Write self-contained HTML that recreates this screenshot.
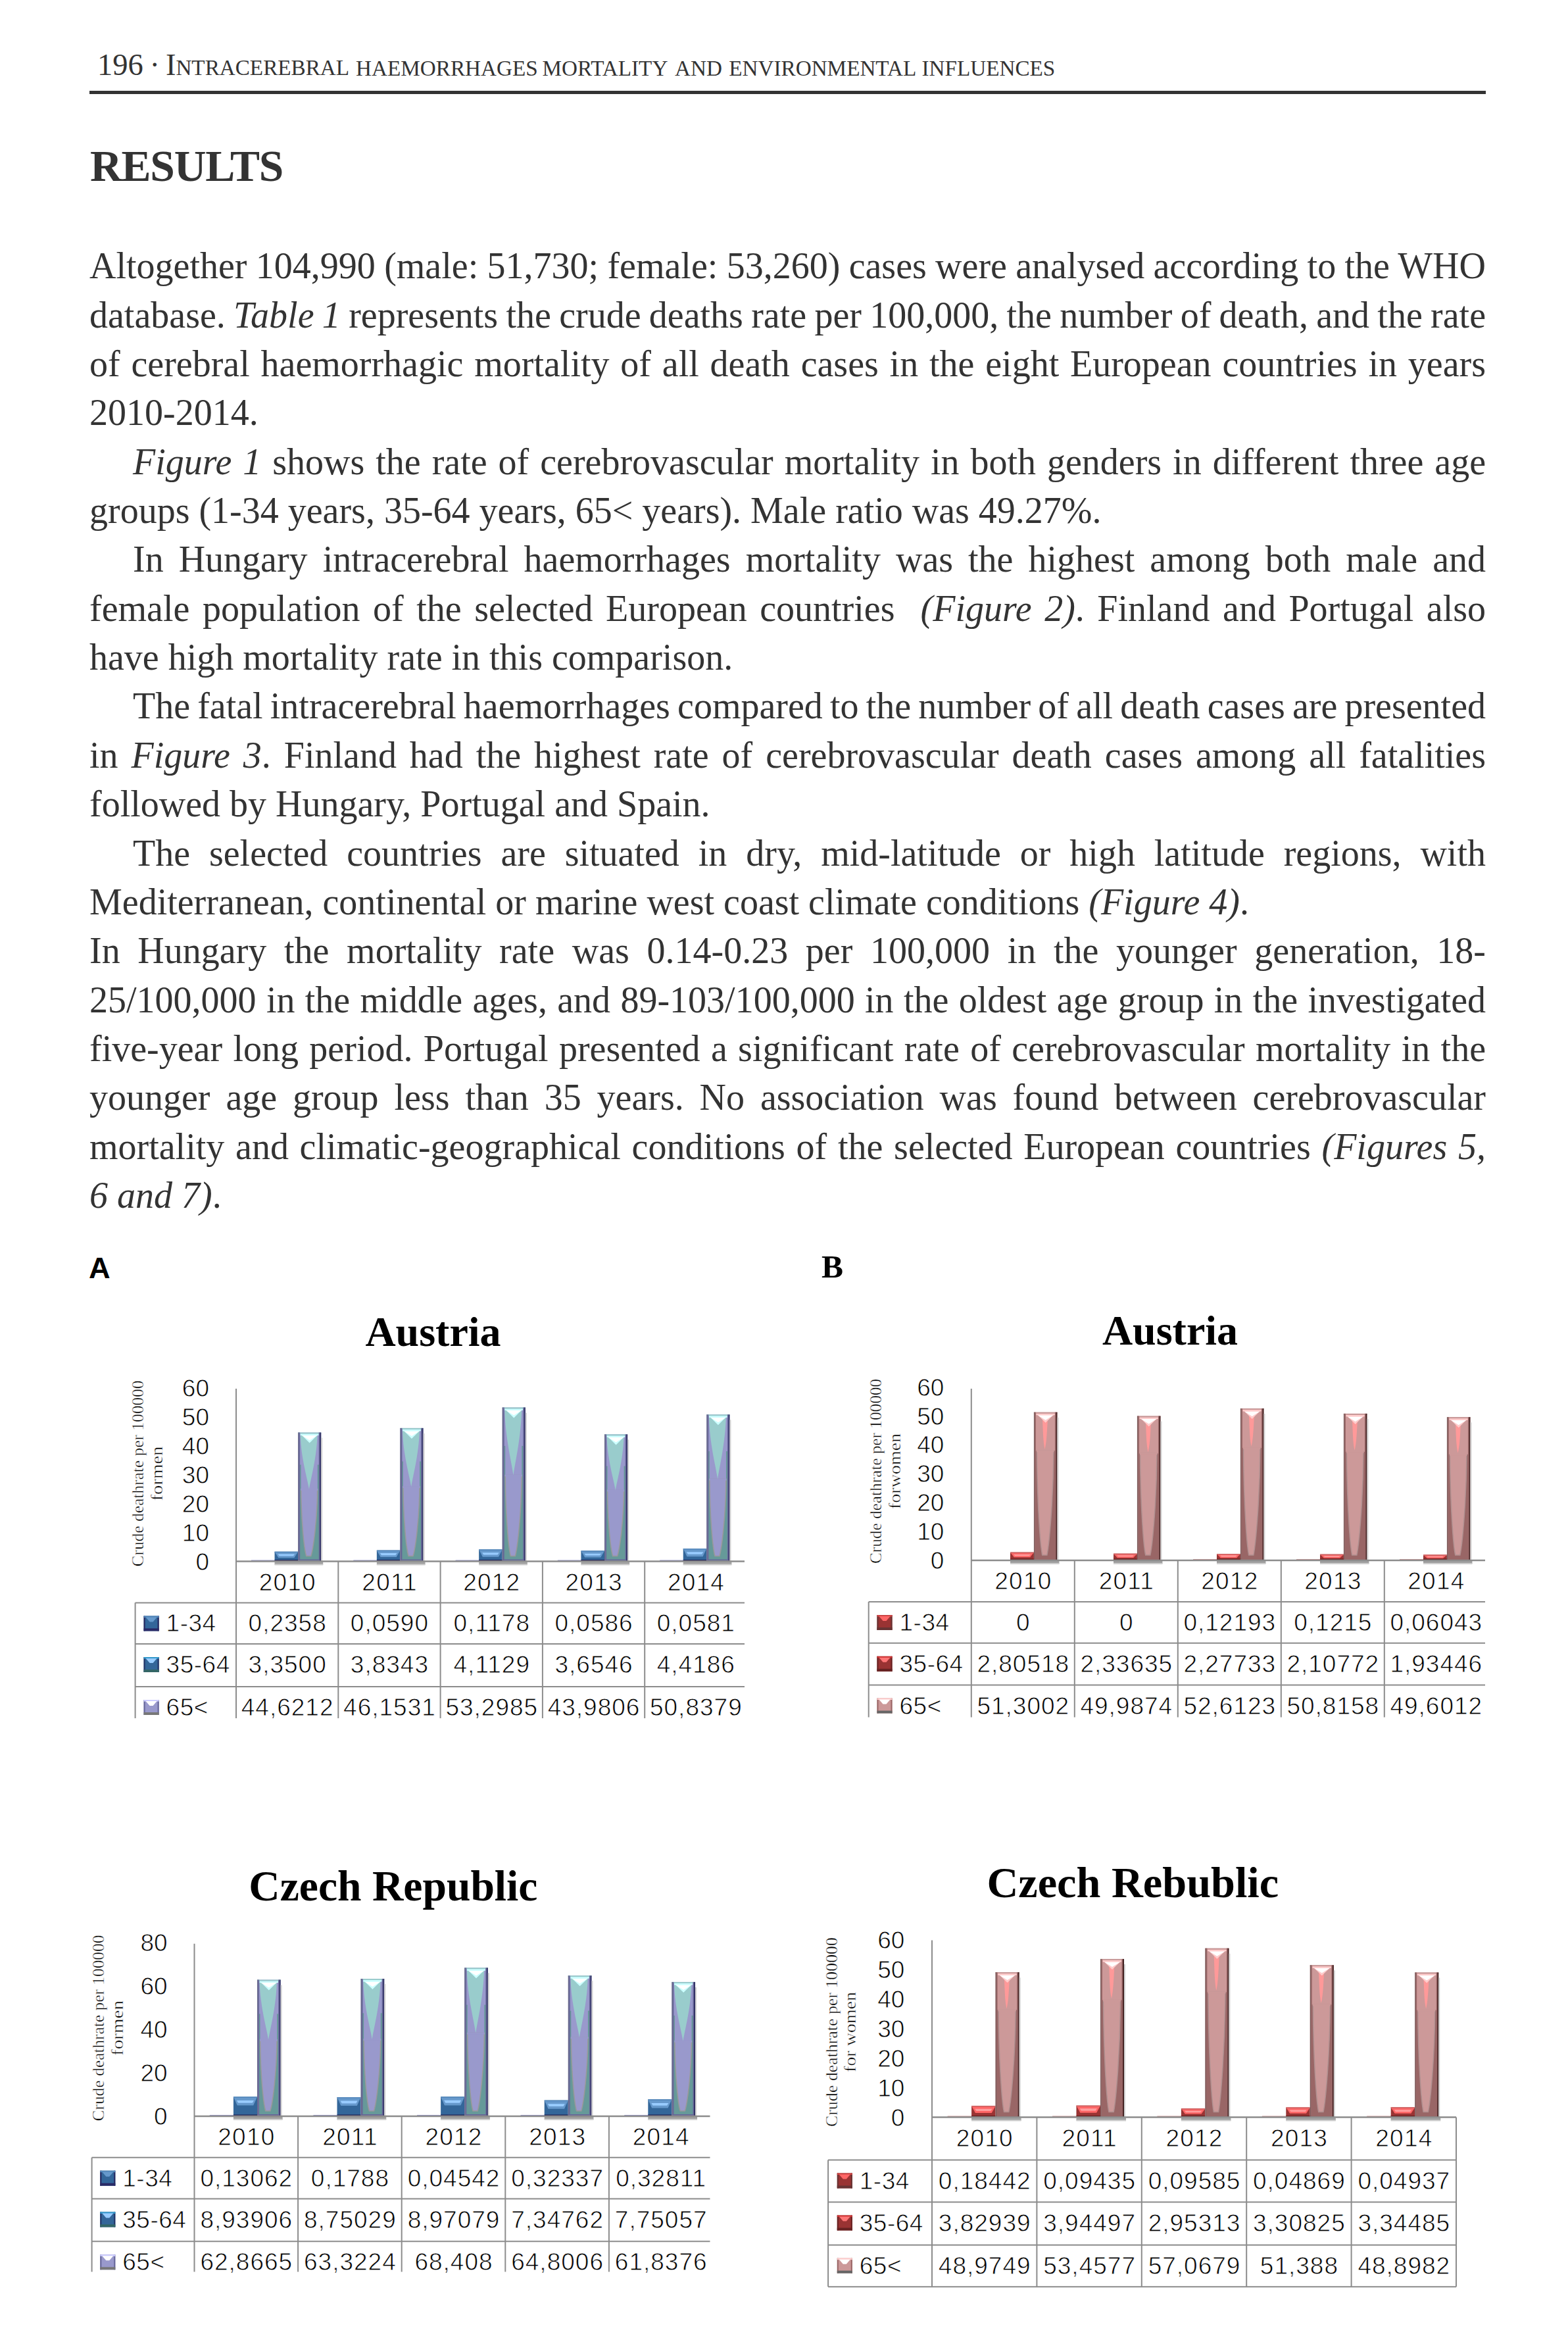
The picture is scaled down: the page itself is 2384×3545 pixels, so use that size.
<!DOCTYPE html>
<html><head><meta charset="utf-8"><title>Results</title>
<style>
html,body{margin:0;padding:0;background:#fff;}
body{width:2384px;height:3545px;position:relative;overflow:hidden;font-family:"Liberation Serif",serif;color:#333;}
.hb{position:absolute;top:75.86px;white-space:nowrap;font-size:46.5px;line-height:46.5px;}
.hb .sc{font-size:33.2px;line-height:0;}
.hs{position:absolute;top:87.0px;white-space:nowrap;font-size:33.2px;line-height:33.2px;}
.rule{position:absolute;left:136px;top:138px;width:2123px;height:5px;background:#333;}
h1{position:absolute;margin:0;left:137px;top:218.8px;letter-spacing:-1.2px;font-size:67.5px;font-weight:bold;line-height:1;white-space:nowrap;}
.bl{position:absolute;font-size:56px;line-height:74.35px;height:74.35px;white-space:nowrap;overflow:visible;}
.bl.j{text-align:justify;text-align-last:justify;white-space:normal;}
.bl.l{text-align:left;}
.lab{position:absolute;color:#000;line-height:1;}
.ov{position:absolute;left:0;top:0;}
</style></head><body>
<div class="hb" style="left:148px">196</div><div class="hb" style="left:227.6px">·</div><div class="hb" style="left:251.9px">I<span class="sc">NTRACEREBRAL</span></div><div class="hs" style="left:541.1px">HAEMORRHAGES</div><div class="hs" style="left:824.6px">MORTALITY</div><div class="hs" style="left:1026px">AND</div><div class="hs" style="left:1108.3px">ENVIRONMENTAL</div><div class="hs" style="left:1401.5px">INFLUENCES</div>
<div class="rule"></div>
<h1 id="h1">RESULTS</h1>
<div class="bl" style="top:367.32px;left:136px;word-spacing:-0.663px;"><span class="m">Altogether 104,990 (male: 51,730; female: 53,260) cases were analysed according to the WHO</span></div>
<div class="bl" style="top:441.68px;left:136px;word-spacing:-1.691px;"><span class="m">database. <i>Table 1</i> represents the crude deaths rate per 100,000, the number of death, and the rate</span></div>
<div class="bl" style="top:516.02px;left:136px;word-spacing:2.815px;"><span class="m">of cerebral haemorrhagic mortality of all death cases in the eight European countries in years</span></div>
<div class="bl" style="top:590.37px;left:136px;"><span class="m">2010-2014.</span></div>
<div class="bl" style="top:664.72px;left:202px;word-spacing:2.979px;"><span class="m"><i>Figure 1</i> shows the rate of cerebrovascular mortality in both genders in different three age</span></div>
<div class="bl" style="top:739.07px;left:136px;"><span class="m">groups (1-34 years, 35-64 years, 65&lt; years). Male ratio was 49.27%.</span></div>
<div class="bl" style="top:813.42px;left:202px;word-spacing:9.018px;"><span class="m">In Hungary intracerebral haemorrhages mortality was the highest among both male and</span></div>
<div class="bl" style="top:887.77px;left:136px;word-spacing:5.562px;"><span class="m">female population of the selected European countries &nbsp;<i>(Figure 2)</i>. Finland and Portugal also</span></div>
<div class="bl" style="top:962.12px;left:136px;"><span class="m">have high mortality rate in this comparison.</span></div>
<div class="bl" style="top:1036.47px;left:202px;word-spacing:-2.869px;"><span class="m">The fatal intracerebral haemorrhages compared to the number of all death cases are presented</span></div>
<div class="bl" style="top:1110.83px;left:136px;word-spacing:5.952px;"><span class="m">in <i>Figure 3</i>. Finland had the highest rate of cerebrovascular death cases among all fatalities</span></div>
<div class="bl" style="top:1185.17px;left:136px;"><span class="m">followed by Hungary, Portugal and Spain.</span></div>
<div class="bl" style="top:1259.52px;left:202px;word-spacing:14.911px;"><span class="m">The selected countries are situated in dry, mid-latitude or high latitude regions, with</span></div>
<div class="bl" style="top:1333.87px;left:136px;"><span class="m">Mediterranean, continental or marine west coast climate conditions <i>(Figure 4)</i>.</span></div>
<div class="bl" style="top:1408.22px;left:136px;word-spacing:12.698px;"><span class="m">In Hungary the mortality rate was 0.14-0.23 per 100,000 in the younger generation, 18-</span></div>
<div class="bl" style="top:1482.58px;left:136px;word-spacing:1.336px;"><span class="m">25/100,000 in the middle ages, and 89-103/100,000 in the oldest age group in the investigated</span></div>
<div class="bl" style="top:1556.92px;left:136px;word-spacing:2.372px;"><span class="m">five-year long period. Portugal presented a significant rate of cerebrovascular mortality in the</span></div>
<div class="bl" style="top:1631.27px;left:136px;word-spacing:9.880px;"><span class="m">younger age group less than 35 years. No association was found between cerebrovascular</span></div>
<div class="bl" style="top:1705.62px;left:136px;word-spacing:2.731px;"><span class="m">mortality and climatic-geographical conditions of the selected European countries <i>(Figures 5,</i></span></div>
<div class="bl" style="top:1779.97px;left:136px;"><span class="m"><i>6 and 7)</i>.</span></div>
<div class="lab" id="la" style="left:135px;top:1905px;font-family:'Liberation Sans',sans-serif;font-weight:bold;font-size:45.25px;">A</div>
<div class="lab" id="lb" style="left:1249px;top:1901.4px;font-family:'Liberation Serif',serif;font-weight:bold;font-size:49.5px;">B</div>
<svg class="ov" width="2384" height="3545" viewBox="0 0 2384 3545">
<text x="658.5" y="2046.3" font-family="Liberation Serif" font-size="64" font-weight="bold" text-anchor="middle" fill="#000" >Austria</text>
<text transform="translate(209.6,2240) rotate(-90)" x="0" y="0" font-family="Liberation Serif" font-size="26" text-anchor="middle" dominant-baseline="central" textLength="283" lengthAdjust="spacingAndGlyphs" stroke="#fff" stroke-width="0.5">Crude deathrate per 100000</text>
<text transform="translate(238,2240) rotate(-90)" x="0" y="0" font-family="Liberation Serif" font-size="26" text-anchor="middle" dominant-baseline="central" textLength="83" lengthAdjust="spacingAndGlyphs" stroke="#fff" stroke-width="0.5">formen</text>
<text x="318" y="2386.5" font-family="Liberation Sans" font-size="37" font-weight="normal" text-anchor="end" fill="#000" stroke="#fff" stroke-width="0.8">0</text>
<text x="318" y="2342.6" font-family="Liberation Sans" font-size="37" font-weight="normal" text-anchor="end" fill="#000" stroke="#fff" stroke-width="0.8">10</text>
<text x="318" y="2298.7" font-family="Liberation Sans" font-size="37" font-weight="normal" text-anchor="end" fill="#000" stroke="#fff" stroke-width="0.8">20</text>
<text x="318" y="2254.8" font-family="Liberation Sans" font-size="37" font-weight="normal" text-anchor="end" fill="#000" stroke="#fff" stroke-width="0.8">30</text>
<text x="318" y="2210.9" font-family="Liberation Sans" font-size="37" font-weight="normal" text-anchor="end" fill="#000" stroke="#fff" stroke-width="0.8">40</text>
<text x="318" y="2167" font-family="Liberation Sans" font-size="37" font-weight="normal" text-anchor="end" fill="#000" stroke="#fff" stroke-width="0.8">50</text>
<text x="318" y="2123.1" font-family="Liberation Sans" font-size="37" font-weight="normal" text-anchor="end" fill="#000" stroke="#fff" stroke-width="0.8">60</text>
<rect x="417.55" y="2374.5" width="73.66" height="4" fill="#a0a0a0" />
<rect x="417.55" y="2377.5" width="73.66" height="2" fill="#d0d0d0" />
<rect x="381.98" y="2371.5" width="35.56" height="2" fill="#9999cc" />
<rect x="417.55" y="2358.79" width="35.56" height="14.71" fill="#336699" />
<polygon points="417.55,2358.79 453.11,2358.79 447.42,2367.91 423.24,2367.91" fill="#6699cc" />
<rect x="417.55" y="2358.79" width="35.56" height="1.5" fill="#5588bb" />
<polygon points="422.53,2362.62 448.13,2362.62 446,2365.36 424.66,2365.36" fill="#99ccff" />
<rect x="417.55" y="2371" width="35.56" height="2.5" fill="#222255" />
<rect x="453.11" y="2177.61" width="35.1" height="195.89" fill="#9999cc" />
<rect x="455.11" y="2263.8" width="30.1" height="109.7" fill="#669999" />
<rect x="455.11" y="2226.58" width="2.5" height="146.92" fill="#669999" />
<rect x="482.71" y="2226.58" width="2.5" height="146.92" fill="#669999" />
<path d="M457.61,2263.8 L482.71,2263.8 C482.21,2313.17 476.28,2354.53 472.77,2365.5 L465.75,2365.5 C462.24,2354.53 458.11,2313.17 457.61,2263.8 Z" fill="#9999cc" stroke="#999999" stroke-width="1.5"/>
<rect x="457.11" y="2262.8" width="26.1" height="3" fill="#9999cc" />
<path d="M456.62,2180.61 L482.59,2180.61 C481.54,2216.4 472.77,2246.57 469.96,2263.8 C467.15,2246.57 457.67,2216.4 456.62,2180.61 Z" fill="#99cccc" />
<polygon points="456.62,2179.61 484.7,2179.61 470.66,2193.61" fill="#ccffff" />
<polygon points="458.73,2182.11 482.59,2182.11 470.66,2189.61" fill="#ffffff" />
<rect x="456.62" y="2179.61" width="28.08" height="2.5" fill="#ccffff" />
<rect x="453.11" y="2177.61" width="35.1" height="2" fill="#99cccc" />
<rect x="454.61" y="2177.61" width="1.5" height="195.89" fill="#666699" />
<rect x="484.71" y="2177.61" width="1.5" height="195.89" fill="#666699" />
<rect x="454.61" y="2370.5" width="31.1" height="2" fill="#666699" />
<rect x="453.11" y="2177.61" width="1.5" height="195.89" fill="#666688" />
<rect x="486.21" y="2177.61" width="2" height="195.89" fill="#333366" />
<rect x="488.21" y="2185.61" width="2" height="187.89" fill="#d0d0d0" />
<rect x="572.85" y="2374.5" width="73.66" height="4" fill="#a0a0a0" />
<rect x="572.85" y="2377.5" width="73.66" height="2" fill="#d0d0d0" />
<rect x="537.28" y="2371.5" width="35.56" height="2" fill="#9999cc" />
<rect x="572.85" y="2356.67" width="35.56" height="16.83" fill="#336699" />
<polygon points="572.85,2356.67 608.41,2356.67 602.72,2367.1 578.54,2367.1" fill="#6699cc" />
<rect x="572.85" y="2356.67" width="35.56" height="1.5" fill="#5588bb" />
<polygon points="577.83,2361.05 603.43,2361.05 601.3,2364.18 579.96,2364.18" fill="#99ccff" />
<rect x="572.85" y="2371" width="35.56" height="2.5" fill="#222255" />
<rect x="608.41" y="2170.89" width="35.1" height="202.61" fill="#9999cc" />
<rect x="610.41" y="2260.04" width="30.1" height="113.46" fill="#669999" />
<rect x="610.41" y="2221.54" width="2.5" height="151.96" fill="#669999" />
<rect x="638.01" y="2221.54" width="2.5" height="151.96" fill="#669999" />
<path d="M612.91,2260.04 L638.01,2260.04 C637.51,2311.1 631.58,2354.15 628.07,2365.5 L621.05,2365.5 C617.54,2354.15 613.41,2311.1 612.91,2260.04 Z" fill="#9999cc" stroke="#999999" stroke-width="1.5"/>
<rect x="612.41" y="2259.04" width="26.1" height="3" fill="#9999cc" />
<path d="M611.92,2173.89 L637.89,2173.89 C636.84,2211.01 628.07,2242.21 625.26,2260.04 C622.45,2242.21 612.97,2211.01 611.92,2173.89 Z" fill="#99cccc" />
<polygon points="611.92,2172.89 640,2172.89 625.96,2186.89" fill="#ccffff" />
<polygon points="614.03,2175.39 637.89,2175.39 625.96,2182.89" fill="#ffffff" />
<rect x="611.92" y="2172.89" width="28.08" height="2.5" fill="#ccffff" />
<rect x="608.41" y="2170.89" width="35.1" height="2" fill="#99cccc" />
<rect x="609.91" y="2170.89" width="1.5" height="202.61" fill="#666699" />
<rect x="640.01" y="2170.89" width="1.5" height="202.61" fill="#666699" />
<rect x="609.91" y="2370.5" width="31.1" height="2" fill="#666699" />
<rect x="608.41" y="2170.89" width="1.5" height="202.61" fill="#666688" />
<rect x="641.51" y="2170.89" width="2" height="202.61" fill="#333366" />
<rect x="643.51" y="2178.89" width="2" height="194.61" fill="#d0d0d0" />
<rect x="728.15" y="2374.5" width="73.66" height="4" fill="#a0a0a0" />
<rect x="728.15" y="2377.5" width="73.66" height="2" fill="#d0d0d0" />
<rect x="692.58" y="2371.5" width="35.56" height="2" fill="#9999cc" />
<rect x="728.15" y="2355.44" width="35.56" height="18.06" fill="#336699" />
<polygon points="728.15,2355.44 763.71,2355.44 758.02,2366.64 733.84,2366.64" fill="#6699cc" />
<rect x="728.15" y="2355.44" width="35.56" height="1.5" fill="#5588bb" />
<polygon points="733.13,2360.15 758.73,2360.15 756.6,2363.5 735.26,2363.5" fill="#99ccff" />
<rect x="728.15" y="2371" width="35.56" height="2.5" fill="#222255" />
<rect x="763.71" y="2139.52" width="35.1" height="233.98" fill="#9999cc" />
<rect x="765.71" y="2242.47" width="30.1" height="131.03" fill="#669999" />
<rect x="765.71" y="2198.01" width="2.5" height="175.49" fill="#669999" />
<rect x="793.31" y="2198.01" width="2.5" height="175.49" fill="#669999" />
<path d="M768.21,2242.47 L793.31,2242.47 C792.81,2301.43 786.88,2352.4 783.37,2365.5 L776.35,2365.5 C772.84,2352.4 768.71,2301.43 768.21,2242.47 Z" fill="#9999cc" stroke="#999999" stroke-width="1.5"/>
<rect x="767.71" y="2241.47" width="26.1" height="3" fill="#9999cc" />
<path d="M767.22,2142.52 L793.19,2142.52 C792.14,2185.85 783.37,2221.88 780.56,2242.47 C777.75,2221.88 768.27,2185.85 767.22,2142.52 Z" fill="#99cccc" />
<polygon points="767.22,2141.52 795.3,2141.52 781.26,2155.52" fill="#ccffff" />
<polygon points="769.33,2144.02 793.19,2144.02 781.26,2151.52" fill="#ffffff" />
<rect x="767.22" y="2141.52" width="28.08" height="2.5" fill="#ccffff" />
<rect x="763.71" y="2139.52" width="35.1" height="2" fill="#99cccc" />
<rect x="765.21" y="2139.52" width="1.5" height="233.98" fill="#666699" />
<rect x="795.31" y="2139.52" width="1.5" height="233.98" fill="#666699" />
<rect x="765.21" y="2370.5" width="31.1" height="2" fill="#666699" />
<rect x="763.71" y="2139.52" width="1.5" height="233.98" fill="#666688" />
<rect x="796.81" y="2139.52" width="2" height="233.98" fill="#333366" />
<rect x="798.81" y="2147.52" width="2" height="225.98" fill="#d0d0d0" />
<rect x="883.45" y="2374.5" width="73.66" height="4" fill="#a0a0a0" />
<rect x="883.45" y="2377.5" width="73.66" height="2" fill="#d0d0d0" />
<rect x="847.88" y="2371.5" width="35.56" height="2" fill="#9999cc" />
<rect x="883.45" y="2357.46" width="35.56" height="16.04" fill="#336699" />
<polygon points="883.45,2357.46 919.01,2357.46 913.32,2367.4 889.14,2367.4" fill="#6699cc" />
<rect x="883.45" y="2357.46" width="35.56" height="1.5" fill="#5588bb" />
<polygon points="888.43,2361.63 914.03,2361.63 911.9,2364.62 890.56,2364.62" fill="#99ccff" />
<rect x="883.45" y="2371" width="35.56" height="2.5" fill="#222255" />
<rect x="919.01" y="2180.43" width="35.1" height="193.07" fill="#9999cc" />
<rect x="921.01" y="2265.38" width="30.1" height="108.12" fill="#669999" />
<rect x="921.01" y="2228.69" width="2.5" height="144.81" fill="#669999" />
<rect x="948.61" y="2228.69" width="2.5" height="144.81" fill="#669999" />
<path d="M923.51,2265.38 L948.61,2265.38 C948.11,2314.03 942.18,2354.69 938.67,2365.5 L931.65,2365.5 C928.14,2354.69 924.01,2314.03 923.51,2265.38 Z" fill="#9999cc" stroke="#999999" stroke-width="1.5"/>
<rect x="923.01" y="2264.38" width="26.1" height="3" fill="#9999cc" />
<path d="M922.52,2183.43 L948.49,2183.43 C947.44,2218.65 938.67,2248.39 935.86,2265.38 C933.05,2248.39 923.57,2218.65 922.52,2183.43 Z" fill="#99cccc" />
<polygon points="922.52,2182.43 950.6,2182.43 936.56,2196.43" fill="#ccffff" />
<polygon points="924.63,2184.93 948.49,2184.93 936.56,2192.43" fill="#ffffff" />
<rect x="922.52" y="2182.43" width="28.08" height="2.5" fill="#ccffff" />
<rect x="919.01" y="2180.43" width="35.1" height="2" fill="#99cccc" />
<rect x="920.51" y="2180.43" width="1.5" height="193.07" fill="#666699" />
<rect x="950.61" y="2180.43" width="1.5" height="193.07" fill="#666699" />
<rect x="920.51" y="2370.5" width="31.1" height="2" fill="#666699" />
<rect x="919.01" y="2180.43" width="1.5" height="193.07" fill="#666688" />
<rect x="952.11" y="2180.43" width="2" height="193.07" fill="#333366" />
<rect x="954.11" y="2188.43" width="2" height="185.07" fill="#d0d0d0" />
<rect x="1038.75" y="2374.5" width="73.66" height="4" fill="#a0a0a0" />
<rect x="1038.75" y="2377.5" width="73.66" height="2" fill="#d0d0d0" />
<rect x="1003.18" y="2371.5" width="35.56" height="2" fill="#9999cc" />
<rect x="1038.75" y="2354.1" width="35.56" height="19.4" fill="#336699" />
<polygon points="1038.75,2354.1 1074.31,2354.1 1068.62,2366.13 1044.44,2366.13" fill="#6699cc" />
<rect x="1038.75" y="2354.1" width="35.56" height="1.5" fill="#5588bb" />
<polygon points="1043.73,2359.15 1069.33,2359.15 1067.2,2362.76 1045.86,2362.76" fill="#99ccff" />
<rect x="1038.75" y="2371" width="35.56" height="2.5" fill="#222255" />
<rect x="1074.31" y="2150.32" width="35.1" height="223.18" fill="#9999cc" />
<rect x="1076.31" y="2248.52" width="30.1" height="124.98" fill="#669999" />
<rect x="1076.31" y="2206.12" width="2.5" height="167.38" fill="#669999" />
<rect x="1103.91" y="2206.12" width="2.5" height="167.38" fill="#669999" />
<path d="M1078.81,2248.52 L1103.91,2248.52 C1103.41,2304.76 1097.48,2353 1093.97,2365.5 L1086.95,2365.5 C1083.44,2353 1079.31,2304.76 1078.81,2248.52 Z" fill="#9999cc" stroke="#999999" stroke-width="1.5"/>
<rect x="1078.31" y="2247.52" width="26.1" height="3" fill="#9999cc" />
<path d="M1077.82,2153.32 L1103.79,2153.32 C1102.74,2194.51 1093.97,2228.88 1091.16,2248.52 C1088.35,2228.88 1078.87,2194.51 1077.82,2153.32 Z" fill="#99cccc" />
<polygon points="1077.82,2152.32 1105.9,2152.32 1091.86,2166.32" fill="#ccffff" />
<polygon points="1079.93,2154.82 1103.79,2154.82 1091.86,2162.32" fill="#ffffff" />
<rect x="1077.82" y="2152.32" width="28.08" height="2.5" fill="#ccffff" />
<rect x="1074.31" y="2150.32" width="35.1" height="2" fill="#99cccc" />
<rect x="1075.81" y="2150.32" width="1.5" height="223.18" fill="#666699" />
<rect x="1105.91" y="2150.32" width="1.5" height="223.18" fill="#666699" />
<rect x="1075.81" y="2370.5" width="31.1" height="2" fill="#666699" />
<rect x="1074.31" y="2150.32" width="1.5" height="223.18" fill="#666688" />
<rect x="1107.41" y="2150.32" width="2" height="223.18" fill="#333366" />
<rect x="1109.41" y="2158.32" width="2" height="215.18" fill="#d0d0d0" />
<line x1="359" y1="2111" x2="359" y2="2612" stroke="#8c8c8c" stroke-width="2"/>
<line x1="359" y1="2373.5" x2="1132" y2="2373.5" stroke="#8c8c8c" stroke-width="2.5"/>
<line x1="205.6" y1="2436.4" x2="1132" y2="2436.4" stroke="#8c8c8c" stroke-width="2"/>
<line x1="205.6" y1="2499" x2="1132" y2="2499" stroke="#8c8c8c" stroke-width="2"/>
<line x1="205.6" y1="2564" x2="1132" y2="2564" stroke="#8c8c8c" stroke-width="2"/>
<line x1="205.6" y1="2436.4" x2="205.6" y2="2612" stroke="#8c8c8c" stroke-width="2"/>
<line x1="514.3" y1="2373.5" x2="514.3" y2="2612" stroke="#8c8c8c" stroke-width="2"/>
<line x1="669.6" y1="2373.5" x2="669.6" y2="2612" stroke="#8c8c8c" stroke-width="2"/>
<line x1="824.9" y1="2373.5" x2="824.9" y2="2612" stroke="#8c8c8c" stroke-width="2"/>
<line x1="980.2" y1="2373.5" x2="980.2" y2="2612" stroke="#8c8c8c" stroke-width="2"/>
<text x="437.25" y="2417.5" font-family="Liberation Sans" font-size="37" font-weight="normal" text-anchor="middle" fill="#000" letter-spacing="1.2" stroke="#fff" stroke-width="0.8">2010</text>
<text x="592.55" y="2417.5" font-family="Liberation Sans" font-size="37" font-weight="normal" text-anchor="middle" fill="#000" letter-spacing="1.2" stroke="#fff" stroke-width="0.8">2011</text>
<text x="747.85" y="2417.5" font-family="Liberation Sans" font-size="37" font-weight="normal" text-anchor="middle" fill="#000" letter-spacing="1.2" stroke="#fff" stroke-width="0.8">2012</text>
<text x="903.15" y="2417.5" font-family="Liberation Sans" font-size="37" font-weight="normal" text-anchor="middle" fill="#000" letter-spacing="1.2" stroke="#fff" stroke-width="0.8">2013</text>
<text x="1058.45" y="2417.5" font-family="Liberation Sans" font-size="37" font-weight="normal" text-anchor="middle" fill="#000" letter-spacing="1.2" stroke="#fff" stroke-width="0.8">2014</text>
<rect x="218.6" y="2456.4" width="23" height="23" fill="#33669a" />
<rect x="218.6" y="2456.4" width="2" height="23" fill="#26265e" />
<rect x="239.6" y="2456.4" width="2" height="23" fill="#26265e" />
<rect x="218.6" y="2475.4" width="23" height="4" fill="#2a2a66" />
<rect x="218.6" y="2456.4" width="23" height="2.5" fill="#5588bb" />
<polygon points="221.6,2458.4 238.6,2458.4 232.6,2465.4 227.6,2465.4" fill="#6699cc" />
<text x="252.6" y="2480.4" font-family="Liberation Sans" font-size="37" font-weight="normal" text-anchor="start" fill="#000" letter-spacing="0.5" stroke="#fff" stroke-width="0.8">1-34</text>
<text x="437.15" y="2480.4" font-family="Liberation Sans" font-size="37" font-weight="normal" text-anchor="middle" fill="#000" letter-spacing="1" stroke="#fff" stroke-width="0.8">0,2358</text>
<text x="592.45" y="2480.4" font-family="Liberation Sans" font-size="37" font-weight="normal" text-anchor="middle" fill="#000" letter-spacing="1" stroke="#fff" stroke-width="0.8">0,0590</text>
<text x="747.75" y="2480.4" font-family="Liberation Sans" font-size="37" font-weight="normal" text-anchor="middle" fill="#000" letter-spacing="1" stroke="#fff" stroke-width="0.8">0,1178</text>
<text x="903.05" y="2480.4" font-family="Liberation Sans" font-size="37" font-weight="normal" text-anchor="middle" fill="#000" letter-spacing="1" stroke="#fff" stroke-width="0.8">0,0586</text>
<text x="1058.35" y="2480.4" font-family="Liberation Sans" font-size="37" font-weight="normal" text-anchor="middle" fill="#000" letter-spacing="1" stroke="#fff" stroke-width="0.8">0,0581</text>
<rect x="218.6" y="2519" width="23" height="23" fill="#336699" />
<rect x="218.6" y="2519" width="2" height="23" fill="#223366" />
<rect x="239.6" y="2519" width="2" height="23" fill="#223366" />
<rect x="218.6" y="2538" width="23" height="4" fill="#336666" />
<rect x="218.6" y="2519" width="23" height="2.5" fill="#3399cc" />
<polygon points="221.6,2521 238.6,2521 232.6,2528 227.6,2528" fill="#99ccff" />
<text x="252.6" y="2543" font-family="Liberation Sans" font-size="37" font-weight="normal" text-anchor="start" fill="#000" letter-spacing="0.5" stroke="#fff" stroke-width="0.8">35-64</text>
<text x="437.15" y="2543" font-family="Liberation Sans" font-size="37" font-weight="normal" text-anchor="middle" fill="#000" letter-spacing="1" stroke="#fff" stroke-width="0.8">3,3500</text>
<text x="592.45" y="2543" font-family="Liberation Sans" font-size="37" font-weight="normal" text-anchor="middle" fill="#000" letter-spacing="1" stroke="#fff" stroke-width="0.8">3,8343</text>
<text x="747.75" y="2543" font-family="Liberation Sans" font-size="37" font-weight="normal" text-anchor="middle" fill="#000" letter-spacing="1" stroke="#fff" stroke-width="0.8">4,1129</text>
<text x="903.05" y="2543" font-family="Liberation Sans" font-size="37" font-weight="normal" text-anchor="middle" fill="#000" letter-spacing="1" stroke="#fff" stroke-width="0.8">3,6546</text>
<text x="1058.35" y="2543" font-family="Liberation Sans" font-size="37" font-weight="normal" text-anchor="middle" fill="#000" letter-spacing="1" stroke="#fff" stroke-width="0.8">4,4186</text>
<rect x="218.6" y="2584" width="23" height="23" fill="#9999cc" />
<rect x="218.6" y="2584" width="2" height="23" fill="#666699" />
<rect x="239.6" y="2584" width="2" height="23" fill="#666699" />
<rect x="218.6" y="2603" width="23" height="4" fill="#777777" />
<rect x="218.6" y="2584" width="23" height="2.5" fill="#ccccff" />
<polygon points="221.6,2586 238.6,2586 232.6,2593 227.6,2593" fill="#ffffff" />
<text x="252.6" y="2608" font-family="Liberation Sans" font-size="37" font-weight="normal" text-anchor="start" fill="#000" letter-spacing="0.5" stroke="#fff" stroke-width="0.8">65&lt;</text>
<text x="437.15" y="2608" font-family="Liberation Sans" font-size="37" font-weight="normal" text-anchor="middle" fill="#000" letter-spacing="1" stroke="#fff" stroke-width="0.8">44,6212</text>
<text x="592.45" y="2608" font-family="Liberation Sans" font-size="37" font-weight="normal" text-anchor="middle" fill="#000" letter-spacing="1" stroke="#fff" stroke-width="0.8">46,1531</text>
<text x="747.75" y="2608" font-family="Liberation Sans" font-size="37" font-weight="normal" text-anchor="middle" fill="#000" letter-spacing="1" stroke="#fff" stroke-width="0.8">53,2985</text>
<text x="903.05" y="2608" font-family="Liberation Sans" font-size="37" font-weight="normal" text-anchor="middle" fill="#000" letter-spacing="1" stroke="#fff" stroke-width="0.8">43,9806</text>
<text x="1058.35" y="2608" font-family="Liberation Sans" font-size="37" font-weight="normal" text-anchor="middle" fill="#000" letter-spacing="1" stroke="#fff" stroke-width="0.8">50,8379</text>
<text x="1779" y="2044" font-family="Liberation Serif" font-size="64" font-weight="bold" text-anchor="middle" fill="#000" >Austria</text>
<text transform="translate(1331,2236.5) rotate(-90)" x="0" y="0" font-family="Liberation Serif" font-size="26" text-anchor="middle" dominant-baseline="central" textLength="281" lengthAdjust="spacingAndGlyphs" stroke="#fff" stroke-width="0.5">Crude deathrate per 100000</text>
<text transform="translate(1360.8,2236.5) rotate(-90)" x="0" y="0" font-family="Liberation Serif" font-size="26" text-anchor="middle" dominant-baseline="central" textLength="115" lengthAdjust="spacingAndGlyphs" stroke="#fff" stroke-width="0.5">forwomen</text>
<text x="1435.4" y="2385" font-family="Liberation Sans" font-size="37" font-weight="normal" text-anchor="end" fill="#000" stroke="#fff" stroke-width="0.8">0</text>
<text x="1435.4" y="2341.1" font-family="Liberation Sans" font-size="37" font-weight="normal" text-anchor="end" fill="#000" stroke="#fff" stroke-width="0.8">10</text>
<text x="1435.4" y="2297.2" font-family="Liberation Sans" font-size="37" font-weight="normal" text-anchor="end" fill="#000" stroke="#fff" stroke-width="0.8">20</text>
<text x="1435.4" y="2253.3" font-family="Liberation Sans" font-size="37" font-weight="normal" text-anchor="end" fill="#000" stroke="#fff" stroke-width="0.8">30</text>
<text x="1435.4" y="2209.4" font-family="Liberation Sans" font-size="37" font-weight="normal" text-anchor="end" fill="#000" stroke="#fff" stroke-width="0.8">40</text>
<text x="1435.4" y="2165.5" font-family="Liberation Sans" font-size="37" font-weight="normal" text-anchor="end" fill="#000" stroke="#fff" stroke-width="0.8">50</text>
<text x="1435.4" y="2121.6" font-family="Liberation Sans" font-size="37" font-weight="normal" text-anchor="end" fill="#000" stroke="#fff" stroke-width="0.8">60</text>
<rect x="1535.99" y="2373" width="74.43" height="4" fill="#a0a0a0" />
<rect x="1535.99" y="2376" width="74.43" height="2" fill="#d0d0d0" />
<rect x="1535.99" y="2359.69" width="35.95" height="12.31" fill="#993333" />
<polygon points="1535.99,2359.69 1571.94,2359.69 1566.19,2367.32 1541.74,2367.32" fill="#ff6666" />
<rect x="1535.99" y="2359.69" width="35.95" height="1.5" fill="#cc6666" />
<polygon points="1541.02,2362.89 1566.91,2362.89 1564.75,2365.18 1543.18,2365.18" fill="#ff9f9f" />
<rect x="1535.99" y="2369.5" width="35.95" height="2.5" fill="#662222" />
<rect x="1571.94" y="2146.79" width="35.48" height="225.21" fill="#cc9999" />
<rect x="1573.94" y="2205.35" width="30.48" height="166.65" fill="#996666" />
<path d="M1576.44,2205.35 L1601.92,2205.35 C1601.42,2280.34 1595.36,2347.33 1591.81,2364 L1584.72,2364 C1581.17,2347.33 1576.94,2280.34 1576.44,2205.35 Z" fill="#cc9999" stroke="#b09090" stroke-width="1.5"/>
<rect x="1575.94" y="2204.35" width="26.48" height="3" fill="#cc9999" />
<path d="M1584.72,2149.79 L1593.23,2149.79 C1592.17,2172.13 1591.46,2191.83 1588.62,2203.09 C1585.78,2191.83 1585.78,2172.13 1584.72,2149.79 Z" fill="#ff9999" />
<polygon points="1575.49,2148.79 1603.88,2148.79 1589.68,2162.79" fill="#ffcccc" />
<polygon points="1577.62,2151.29 1601.75,2151.29 1589.68,2158.79" fill="#ffffff" />
<rect x="1575.49" y="2148.79" width="28.39" height="2.5" fill="#ffcccc" />
<rect x="1571.94" y="2146.79" width="35.48" height="2" fill="#c89898" />
<rect x="1573.44" y="2146.79" width="1.5" height="225.21" fill="#996666" />
<rect x="1603.92" y="2146.79" width="1.5" height="225.21" fill="#996666" />
<rect x="1573.44" y="2369" width="31.48" height="2" fill="#996666" />
<rect x="1571.94" y="2146.79" width="1.5" height="225.21" fill="#7a5a5a" />
<rect x="1605.42" y="2146.79" width="2" height="225.21" fill="#442222" />
<rect x="1607.42" y="2154.79" width="2" height="217.21" fill="#d0d0d0" />
<rect x="1692.99" y="2373" width="74.43" height="4" fill="#a0a0a0" />
<rect x="1692.99" y="2376" width="74.43" height="2" fill="#d0d0d0" />
<rect x="1692.99" y="2361.74" width="35.95" height="10.26" fill="#993333" />
<polygon points="1692.99,2361.74 1728.94,2361.74 1723.19,2368.1 1698.74,2368.1" fill="#ff6666" />
<rect x="1692.99" y="2361.74" width="35.95" height="1.5" fill="#cc6666" />
<polygon points="1698.02,2364.41 1723.91,2364.41 1721.75,2366.32 1700.18,2366.32" fill="#ff9f9f" />
<rect x="1692.99" y="2369.5" width="35.95" height="2.5" fill="#662222" />
<rect x="1728.94" y="2152.56" width="35.48" height="219.44" fill="#cc9999" />
<rect x="1730.94" y="2209.61" width="30.48" height="162.39" fill="#996666" />
<path d="M1733.44,2209.61 L1758.92,2209.61 C1758.42,2282.69 1752.36,2347.76 1748.81,2364 L1741.72,2364 C1738.17,2347.76 1733.94,2282.69 1733.44,2209.61 Z" fill="#cc9999" stroke="#b09090" stroke-width="1.5"/>
<rect x="1732.94" y="2208.61" width="26.48" height="3" fill="#cc9999" />
<path d="M1741.72,2155.56 L1750.23,2155.56 C1749.17,2177.24 1748.46,2196.44 1745.62,2207.42 C1742.78,2196.44 1742.78,2177.24 1741.72,2155.56 Z" fill="#ff9999" />
<polygon points="1732.49,2154.56 1760.88,2154.56 1746.68,2168.56" fill="#ffcccc" />
<polygon points="1734.62,2157.06 1758.75,2157.06 1746.68,2164.56" fill="#ffffff" />
<rect x="1732.49" y="2154.56" width="28.39" height="2.5" fill="#ffcccc" />
<rect x="1728.94" y="2152.56" width="35.48" height="2" fill="#c89898" />
<rect x="1730.44" y="2152.56" width="1.5" height="219.44" fill="#996666" />
<rect x="1760.92" y="2152.56" width="1.5" height="219.44" fill="#996666" />
<rect x="1730.44" y="2369" width="31.48" height="2" fill="#996666" />
<rect x="1728.94" y="2152.56" width="1.5" height="219.44" fill="#7a5a5a" />
<rect x="1762.42" y="2152.56" width="2" height="219.44" fill="#442222" />
<rect x="1764.42" y="2160.56" width="2" height="211.44" fill="#d0d0d0" />
<rect x="1849.99" y="2373" width="74.43" height="4" fill="#a0a0a0" />
<rect x="1849.99" y="2376" width="74.43" height="2" fill="#d0d0d0" />
<rect x="1814.04" y="2370" width="35.95" height="2" fill="#cc9999" />
<rect x="1849.99" y="2362" width="35.95" height="10" fill="#993333" />
<polygon points="1849.99,2362 1885.94,2362 1880.19,2368.2 1855.74,2368.2" fill="#ff6666" />
<rect x="1849.99" y="2362" width="35.95" height="1.5" fill="#cc6666" />
<polygon points="1855.02,2364.61 1880.91,2364.61 1878.75,2366.47 1857.18,2366.47" fill="#ff9f9f" />
<rect x="1849.99" y="2369.5" width="35.95" height="2.5" fill="#662222" />
<rect x="1885.94" y="2141.03" width="35.48" height="230.97" fill="#cc9999" />
<rect x="1887.94" y="2201.08" width="30.48" height="170.92" fill="#996666" />
<path d="M1890.44,2201.08 L1915.92,2201.08 C1915.42,2278 1909.36,2346.91 1905.81,2364 L1898.72,2364 C1895.17,2346.91 1890.94,2278 1890.44,2201.08 Z" fill="#cc9999" stroke="#b09090" stroke-width="1.5"/>
<rect x="1889.94" y="2200.08" width="26.48" height="3" fill="#cc9999" />
<path d="M1898.72,2144.03 L1907.23,2144.03 C1906.17,2167.02 1905.46,2187.23 1902.62,2198.77 C1899.78,2187.23 1899.78,2167.02 1898.72,2144.03 Z" fill="#ff9999" />
<polygon points="1889.49,2143.03 1917.88,2143.03 1903.68,2157.03" fill="#ffcccc" />
<polygon points="1891.62,2145.53 1915.75,2145.53 1903.68,2153.03" fill="#ffffff" />
<rect x="1889.49" y="2143.03" width="28.39" height="2.5" fill="#ffcccc" />
<rect x="1885.94" y="2141.03" width="35.48" height="2" fill="#c89898" />
<rect x="1887.44" y="2141.03" width="1.5" height="230.97" fill="#996666" />
<rect x="1917.92" y="2141.03" width="1.5" height="230.97" fill="#996666" />
<rect x="1887.44" y="2369" width="31.48" height="2" fill="#996666" />
<rect x="1885.94" y="2141.03" width="1.5" height="230.97" fill="#7a5a5a" />
<rect x="1919.42" y="2141.03" width="2" height="230.97" fill="#442222" />
<rect x="1921.42" y="2149.03" width="2" height="222.97" fill="#d0d0d0" />
<rect x="2006.99" y="2373" width="74.43" height="4" fill="#a0a0a0" />
<rect x="2006.99" y="2376" width="74.43" height="2" fill="#d0d0d0" />
<rect x="1971.04" y="2370" width="35.95" height="2" fill="#cc9999" />
<rect x="2006.99" y="2362.75" width="35.95" height="9.25" fill="#993333" />
<polygon points="2006.99,2362.75 2042.94,2362.75 2037.19,2368.48 2012.74,2368.48" fill="#ff6666" />
<rect x="2006.99" y="2362.75" width="35.95" height="1.5" fill="#cc6666" />
<polygon points="2012.02,2365.16 2037.91,2365.16 2035.75,2366.88 2014.18,2366.88" fill="#ff9f9f" />
<rect x="2006.99" y="2369.5" width="35.95" height="2.5" fill="#662222" />
<rect x="2042.94" y="2148.92" width="35.48" height="223.08" fill="#cc9999" />
<rect x="2044.94" y="2206.92" width="30.48" height="165.08" fill="#996666" />
<path d="M2047.44,2206.92 L2072.92,2206.92 C2072.42,2281.21 2066.36,2347.49 2062.81,2364 L2055.72,2364 C2052.17,2347.49 2047.94,2281.21 2047.44,2206.92 Z" fill="#cc9999" stroke="#b09090" stroke-width="1.5"/>
<rect x="2046.94" y="2205.92" width="26.48" height="3" fill="#cc9999" />
<path d="M2055.72,2151.92 L2064.23,2151.92 C2063.17,2174.02 2062.46,2193.53 2059.62,2204.69 C2056.78,2193.53 2056.78,2174.02 2055.72,2151.92 Z" fill="#ff9999" />
<polygon points="2046.49,2150.92 2074.88,2150.92 2060.68,2164.92" fill="#ffcccc" />
<polygon points="2048.62,2153.42 2072.75,2153.42 2060.68,2160.92" fill="#ffffff" />
<rect x="2046.49" y="2150.92" width="28.39" height="2.5" fill="#ffcccc" />
<rect x="2042.94" y="2148.92" width="35.48" height="2" fill="#c89898" />
<rect x="2044.44" y="2148.92" width="1.5" height="223.08" fill="#996666" />
<rect x="2074.92" y="2148.92" width="1.5" height="223.08" fill="#996666" />
<rect x="2044.44" y="2369" width="31.48" height="2" fill="#996666" />
<rect x="2042.94" y="2148.92" width="1.5" height="223.08" fill="#7a5a5a" />
<rect x="2076.42" y="2148.92" width="2" height="223.08" fill="#442222" />
<rect x="2078.42" y="2156.92" width="2" height="215.08" fill="#d0d0d0" />
<rect x="2163.99" y="2373" width="74.43" height="4" fill="#a0a0a0" />
<rect x="2163.99" y="2376" width="74.43" height="2" fill="#d0d0d0" />
<rect x="2128.04" y="2370" width="35.95" height="2" fill="#cc9999" />
<rect x="2163.99" y="2363.51" width="35.95" height="8.49" fill="#993333" />
<polygon points="2163.99,2363.51 2199.94,2363.51 2194.19,2368.77 2169.74,2368.77" fill="#ff6666" />
<rect x="2163.99" y="2363.51" width="35.95" height="1.5" fill="#cc6666" />
<polygon points="2169.02,2365.72 2194.91,2365.72 2192.75,2367.3 2171.18,2367.3" fill="#ff9f9f" />
<rect x="2163.99" y="2369.5" width="35.95" height="2.5" fill="#662222" />
<rect x="2199.94" y="2154.25" width="35.48" height="217.75" fill="#cc9999" />
<rect x="2201.94" y="2210.87" width="30.48" height="161.13" fill="#996666" />
<path d="M2204.44,2210.87 L2229.92,2210.87 C2229.42,2283.38 2223.36,2347.89 2219.81,2364 L2212.72,2364 C2209.17,2347.89 2204.94,2283.38 2204.44,2210.87 Z" fill="#cc9999" stroke="#b09090" stroke-width="1.5"/>
<rect x="2203.94" y="2209.87" width="26.48" height="3" fill="#cc9999" />
<path d="M2212.72,2157.25 L2221.23,2157.25 C2220.17,2178.75 2219.46,2197.8 2216.62,2208.69 C2213.78,2197.8 2213.78,2178.75 2212.72,2157.25 Z" fill="#ff9999" />
<polygon points="2203.49,2156.25 2231.88,2156.25 2217.68,2170.25" fill="#ffcccc" />
<polygon points="2205.62,2158.75 2229.75,2158.75 2217.68,2166.25" fill="#ffffff" />
<rect x="2203.49" y="2156.25" width="28.39" height="2.5" fill="#ffcccc" />
<rect x="2199.94" y="2154.25" width="35.48" height="2" fill="#c89898" />
<rect x="2201.44" y="2154.25" width="1.5" height="217.75" fill="#996666" />
<rect x="2231.92" y="2154.25" width="1.5" height="217.75" fill="#996666" />
<rect x="2201.44" y="2369" width="31.48" height="2" fill="#996666" />
<rect x="2199.94" y="2154.25" width="1.5" height="217.75" fill="#7a5a5a" />
<rect x="2233.42" y="2154.25" width="2" height="217.75" fill="#442222" />
<rect x="2235.42" y="2162.25" width="2" height="209.75" fill="#d0d0d0" />
<line x1="1476.8" y1="2111" x2="1476.8" y2="2610.5" stroke="#8c8c8c" stroke-width="2"/>
<line x1="1476.8" y1="2372" x2="2258" y2="2372" stroke="#8c8c8c" stroke-width="2.5"/>
<line x1="1320.7" y1="2435" x2="2258" y2="2435" stroke="#8c8c8c" stroke-width="2"/>
<line x1="1320.7" y1="2497.8" x2="2258" y2="2497.8" stroke="#8c8c8c" stroke-width="2"/>
<line x1="1320.7" y1="2561.5" x2="2258" y2="2561.5" stroke="#8c8c8c" stroke-width="2"/>
<line x1="1320.7" y1="2435" x2="1320.7" y2="2610.5" stroke="#8c8c8c" stroke-width="2"/>
<line x1="1633.8" y1="2372" x2="1633.8" y2="2610.5" stroke="#8c8c8c" stroke-width="2"/>
<line x1="1790.8" y1="2372" x2="1790.8" y2="2610.5" stroke="#8c8c8c" stroke-width="2"/>
<line x1="1947.8" y1="2372" x2="1947.8" y2="2610.5" stroke="#8c8c8c" stroke-width="2"/>
<line x1="2104.8" y1="2372" x2="2104.8" y2="2610.5" stroke="#8c8c8c" stroke-width="2"/>
<text x="1555.9" y="2416" font-family="Liberation Sans" font-size="37" font-weight="normal" text-anchor="middle" fill="#000" letter-spacing="1.2" stroke="#fff" stroke-width="0.8">2010</text>
<text x="1712.9" y="2416" font-family="Liberation Sans" font-size="37" font-weight="normal" text-anchor="middle" fill="#000" letter-spacing="1.2" stroke="#fff" stroke-width="0.8">2011</text>
<text x="1869.9" y="2416" font-family="Liberation Sans" font-size="37" font-weight="normal" text-anchor="middle" fill="#000" letter-spacing="1.2" stroke="#fff" stroke-width="0.8">2012</text>
<text x="2026.9" y="2416" font-family="Liberation Sans" font-size="37" font-weight="normal" text-anchor="middle" fill="#000" letter-spacing="1.2" stroke="#fff" stroke-width="0.8">2013</text>
<text x="2183.9" y="2416" font-family="Liberation Sans" font-size="37" font-weight="normal" text-anchor="middle" fill="#000" letter-spacing="1.2" stroke="#fff" stroke-width="0.8">2014</text>
<rect x="1333.5" y="2455" width="23" height="23" fill="#993333" />
<rect x="1333.5" y="2455" width="2" height="23" fill="#663333" />
<rect x="1354.5" y="2455" width="2" height="23" fill="#663333" />
<rect x="1333.5" y="2474" width="23" height="4" fill="#663333" />
<rect x="1333.5" y="2455" width="23" height="2.5" fill="#cc4444" />
<polygon points="1336.5,2457 1353.5,2457 1347.5,2464 1342.5,2464" fill="#ff6666" />
<text x="1367.5" y="2479" font-family="Liberation Sans" font-size="37" font-weight="normal" text-anchor="start" fill="#000" letter-spacing="0.5" stroke="#fff" stroke-width="0.8">1-34</text>
<text x="1555.8" y="2479" font-family="Liberation Sans" font-size="37" font-weight="normal" text-anchor="middle" fill="#000" letter-spacing="1" stroke="#fff" stroke-width="0.8">0</text>
<text x="1712.8" y="2479" font-family="Liberation Sans" font-size="37" font-weight="normal" text-anchor="middle" fill="#000" letter-spacing="1" stroke="#fff" stroke-width="0.8">0</text>
<text x="1869.8" y="2479" font-family="Liberation Sans" font-size="37" font-weight="normal" text-anchor="middle" fill="#000" letter-spacing="1" stroke="#fff" stroke-width="0.8">0,12193</text>
<text x="2026.8" y="2479" font-family="Liberation Sans" font-size="37" font-weight="normal" text-anchor="middle" fill="#000" letter-spacing="1" stroke="#fff" stroke-width="0.8">0,1215</text>
<text x="2183.8" y="2479" font-family="Liberation Sans" font-size="37" font-weight="normal" text-anchor="middle" fill="#000" letter-spacing="1" stroke="#fff" stroke-width="0.8">0,06043</text>
<rect x="1333.5" y="2517.8" width="23" height="23" fill="#993333" />
<rect x="1333.5" y="2517.8" width="2" height="23" fill="#662222" />
<rect x="1354.5" y="2517.8" width="2" height="23" fill="#662222" />
<rect x="1333.5" y="2536.8" width="23" height="4" fill="#662222" />
<rect x="1333.5" y="2517.8" width="23" height="2.5" fill="#cc3333" />
<polygon points="1336.5,2519.8 1353.5,2519.8 1347.5,2526.8 1342.5,2526.8" fill="#ff7777" />
<text x="1367.5" y="2541.8" font-family="Liberation Sans" font-size="37" font-weight="normal" text-anchor="start" fill="#000" letter-spacing="0.5" stroke="#fff" stroke-width="0.8">35-64</text>
<text x="1555.8" y="2541.8" font-family="Liberation Sans" font-size="37" font-weight="normal" text-anchor="middle" fill="#000" letter-spacing="1" stroke="#fff" stroke-width="0.8">2,80518</text>
<text x="1712.8" y="2541.8" font-family="Liberation Sans" font-size="37" font-weight="normal" text-anchor="middle" fill="#000" letter-spacing="1" stroke="#fff" stroke-width="0.8">2,33635</text>
<text x="1869.8" y="2541.8" font-family="Liberation Sans" font-size="37" font-weight="normal" text-anchor="middle" fill="#000" letter-spacing="1" stroke="#fff" stroke-width="0.8">2,27733</text>
<text x="2026.8" y="2541.8" font-family="Liberation Sans" font-size="37" font-weight="normal" text-anchor="middle" fill="#000" letter-spacing="1" stroke="#fff" stroke-width="0.8">2,10772</text>
<text x="2183.8" y="2541.8" font-family="Liberation Sans" font-size="37" font-weight="normal" text-anchor="middle" fill="#000" letter-spacing="1" stroke="#fff" stroke-width="0.8">1,93446</text>
<rect x="1333.5" y="2581.5" width="23" height="23" fill="#cc9999" />
<rect x="1333.5" y="2581.5" width="2" height="23" fill="#996666" />
<rect x="1354.5" y="2581.5" width="2" height="23" fill="#996666" />
<rect x="1333.5" y="2600.5" width="23" height="4" fill="#666666" />
<rect x="1333.5" y="2581.5" width="23" height="2.5" fill="#ffcccc" />
<polygon points="1336.5,2583.5 1353.5,2583.5 1347.5,2590.5 1342.5,2590.5" fill="#ffffff" />
<text x="1367.5" y="2605.5" font-family="Liberation Sans" font-size="37" font-weight="normal" text-anchor="start" fill="#000" letter-spacing="0.5" stroke="#fff" stroke-width="0.8">65&lt;</text>
<text x="1555.8" y="2605.5" font-family="Liberation Sans" font-size="37" font-weight="normal" text-anchor="middle" fill="#000" letter-spacing="1" stroke="#fff" stroke-width="0.8">51,3002</text>
<text x="1712.8" y="2605.5" font-family="Liberation Sans" font-size="37" font-weight="normal" text-anchor="middle" fill="#000" letter-spacing="1" stroke="#fff" stroke-width="0.8">49,9874</text>
<text x="1869.8" y="2605.5" font-family="Liberation Sans" font-size="37" font-weight="normal" text-anchor="middle" fill="#000" letter-spacing="1" stroke="#fff" stroke-width="0.8">52,6123</text>
<text x="2026.8" y="2605.5" font-family="Liberation Sans" font-size="37" font-weight="normal" text-anchor="middle" fill="#000" letter-spacing="1" stroke="#fff" stroke-width="0.8">50,8158</text>
<text x="2183.8" y="2605.5" font-family="Liberation Sans" font-size="37" font-weight="normal" text-anchor="middle" fill="#000" letter-spacing="1" stroke="#fff" stroke-width="0.8">49,6012</text>
<text x="597.9" y="2889" font-family="Liberation Serif" font-size="65.6" font-weight="bold" text-anchor="middle" fill="#000" >Czech Republic</text>
<text transform="translate(149.5,3083) rotate(-90)" x="0" y="0" font-family="Liberation Serif" font-size="26" text-anchor="middle" dominant-baseline="central" textLength="283" lengthAdjust="spacingAndGlyphs" stroke="#fff" stroke-width="0.5">Crude deathrate per 100000</text>
<text transform="translate(178,3083) rotate(-90)" x="0" y="0" font-family="Liberation Serif" font-size="26" text-anchor="middle" dominant-baseline="central" textLength="84" lengthAdjust="spacingAndGlyphs" stroke="#fff" stroke-width="0.5">formen</text>
<text x="254.7" y="3230" font-family="Liberation Sans" font-size="37" font-weight="normal" text-anchor="end" fill="#000" stroke="#fff" stroke-width="0.8">0</text>
<text x="254.7" y="3164" font-family="Liberation Sans" font-size="37" font-weight="normal" text-anchor="end" fill="#000" stroke="#fff" stroke-width="0.8">20</text>
<text x="254.7" y="3098" font-family="Liberation Sans" font-size="37" font-weight="normal" text-anchor="end" fill="#000" stroke="#fff" stroke-width="0.8">40</text>
<text x="254.7" y="3032" font-family="Liberation Sans" font-size="37" font-weight="normal" text-anchor="end" fill="#000" stroke="#fff" stroke-width="0.8">60</text>
<text x="254.7" y="2966" font-family="Liberation Sans" font-size="37" font-weight="normal" text-anchor="end" fill="#000" stroke="#fff" stroke-width="0.8">80</text>
<rect x="354.92" y="3218" width="74.71" height="4" fill="#a0a0a0" />
<rect x="354.92" y="3221" width="74.71" height="2" fill="#d0d0d0" />
<rect x="318.82" y="3215" width="36.09" height="2" fill="#9999cc" />
<rect x="354.92" y="3187.5" width="36.09" height="29.5" fill="#336699" />
<polygon points="354.92,3187.5 391.01,3187.5 385.23,3200.5 360.69,3200.5" fill="#6699cc" />
<rect x="354.92" y="3187.5" width="36.09" height="1.5" fill="#5588bb" />
<polygon points="359.97,3192.96 385.95,3192.96 383.79,3196.86 362.13,3196.86" fill="#99ccff" />
<rect x="354.92" y="3214.5" width="36.09" height="2.5" fill="#222255" />
<rect x="391.01" y="3009.54" width="35.62" height="207.46" fill="#9999cc" />
<rect x="393.01" y="3100.82" width="30.62" height="116.18" fill="#669999" />
<rect x="393.01" y="3061.41" width="2.5" height="155.59" fill="#669999" />
<rect x="421.12" y="3061.41" width="2.5" height="155.59" fill="#669999" />
<path d="M395.51,3100.82 L421.12,3100.82 C420.62,3153.1 414.51,3197.38 410.95,3209 L403.83,3209 C400.27,3197.38 396.01,3153.1 395.51,3100.82 Z" fill="#9999cc" stroke="#999999" stroke-width="1.5"/>
<rect x="395.01" y="3099.82" width="26.62" height="3" fill="#9999cc" />
<path d="M394.57,3012.54 L420.92,3012.54 C419.86,3050.62 410.95,3082.57 408.1,3100.82 C405.25,3082.57 395.64,3050.62 394.57,3012.54 Z" fill="#99cccc" />
<polygon points="394.57,3011.54 423.06,3011.54 408.81,3025.54" fill="#ccffff" />
<polygon points="396.7,3014.04 420.92,3014.04 408.81,3021.54" fill="#ffffff" />
<rect x="394.57" y="3011.54" width="28.49" height="2.5" fill="#ccffff" />
<rect x="391.01" y="3009.54" width="35.62" height="2" fill="#99cccc" />
<rect x="392.51" y="3009.54" width="1.5" height="207.46" fill="#666699" />
<rect x="423.12" y="3009.54" width="1.5" height="207.46" fill="#666699" />
<rect x="392.51" y="3214" width="31.62" height="2" fill="#666699" />
<rect x="391.01" y="3009.54" width="1.5" height="207.46" fill="#666688" />
<rect x="424.62" y="3009.54" width="2" height="207.46" fill="#333366" />
<rect x="426.62" y="3017.54" width="2" height="199.46" fill="#d0d0d0" />
<rect x="512.52" y="3218" width="74.71" height="4" fill="#a0a0a0" />
<rect x="512.52" y="3221" width="74.71" height="2" fill="#d0d0d0" />
<rect x="476.42" y="3215" width="36.09" height="2" fill="#9999cc" />
<rect x="512.52" y="3188.12" width="36.09" height="28.88" fill="#336699" />
<polygon points="512.52,3188.12 548.61,3188.12 542.83,3201.12 518.29,3201.12" fill="#6699cc" />
<rect x="512.52" y="3188.12" width="36.09" height="1.5" fill="#5588bb" />
<polygon points="517.57,3193.58 543.55,3193.58 541.39,3197.48 519.73,3197.48" fill="#99ccff" />
<rect x="512.52" y="3214.5" width="36.09" height="2.5" fill="#222255" />
<rect x="548.61" y="3008.04" width="35.62" height="208.96" fill="#9999cc" />
<rect x="550.61" y="3099.98" width="30.62" height="117.02" fill="#669999" />
<rect x="550.61" y="3060.28" width="2.5" height="156.72" fill="#669999" />
<rect x="578.72" y="3060.28" width="2.5" height="156.72" fill="#669999" />
<path d="M553.11,3099.98 L578.72,3099.98 C578.22,3152.64 572.11,3197.3 568.55,3209 L561.43,3209 C557.87,3197.3 553.61,3152.64 553.11,3099.98 Z" fill="#9999cc" stroke="#999999" stroke-width="1.5"/>
<rect x="552.61" y="3098.98" width="26.62" height="3" fill="#9999cc" />
<path d="M552.17,3011.04 L578.52,3011.04 C577.46,3049.41 568.55,3081.59 565.7,3099.98 C562.85,3081.59 553.24,3049.41 552.17,3011.04 Z" fill="#99cccc" />
<polygon points="552.17,3010.04 580.66,3010.04 566.41,3024.04" fill="#ccffff" />
<polygon points="554.3,3012.54 578.52,3012.54 566.41,3020.04" fill="#ffffff" />
<rect x="552.17" y="3010.04" width="28.49" height="2.5" fill="#ccffff" />
<rect x="548.61" y="3008.04" width="35.62" height="2" fill="#99cccc" />
<rect x="550.11" y="3008.04" width="1.5" height="208.96" fill="#666699" />
<rect x="580.72" y="3008.04" width="1.5" height="208.96" fill="#666699" />
<rect x="550.11" y="3214" width="31.62" height="2" fill="#666699" />
<rect x="548.61" y="3008.04" width="1.5" height="208.96" fill="#666688" />
<rect x="582.22" y="3008.04" width="2" height="208.96" fill="#333366" />
<rect x="584.22" y="3016.04" width="2" height="200.96" fill="#d0d0d0" />
<rect x="670.12" y="3218" width="74.71" height="4" fill="#a0a0a0" />
<rect x="670.12" y="3221" width="74.71" height="2" fill="#d0d0d0" />
<rect x="634.02" y="3215" width="36.09" height="2" fill="#9999cc" />
<rect x="670.12" y="3187.4" width="36.09" height="29.6" fill="#336699" />
<polygon points="670.12,3187.4 706.21,3187.4 700.43,3200.4 675.89,3200.4" fill="#6699cc" />
<rect x="670.12" y="3187.4" width="36.09" height="1.5" fill="#5588bb" />
<polygon points="675.17,3192.86 701.15,3192.86 698.99,3196.76 677.33,3196.76" fill="#99ccff" />
<rect x="670.12" y="3214.5" width="36.09" height="2.5" fill="#222255" />
<rect x="706.21" y="2991.25" width="35.62" height="225.75" fill="#9999cc" />
<rect x="708.21" y="3090.58" width="30.62" height="126.42" fill="#669999" />
<rect x="708.21" y="3047.69" width="2.5" height="169.31" fill="#669999" />
<rect x="736.32" y="3047.69" width="2.5" height="169.31" fill="#669999" />
<path d="M710.71,3090.58 L736.32,3090.58 C735.82,3147.47 729.71,3196.36 726.15,3209 L719.03,3209 C715.47,3196.36 711.21,3147.47 710.71,3090.58 Z" fill="#9999cc" stroke="#999999" stroke-width="1.5"/>
<rect x="710.21" y="3089.58" width="26.62" height="3" fill="#9999cc" />
<path d="M709.77,2994.25 L736.12,2994.25 C735.06,3035.95 726.15,3070.72 723.3,3090.58 C720.45,3070.72 710.84,3035.95 709.77,2994.25 Z" fill="#99cccc" />
<polygon points="709.77,2993.25 738.26,2993.25 724.01,3007.25" fill="#ccffff" />
<polygon points="711.9,2995.75 736.12,2995.75 724.01,3003.25" fill="#ffffff" />
<rect x="709.77" y="2993.25" width="28.49" height="2.5" fill="#ccffff" />
<rect x="706.21" y="2991.25" width="35.62" height="2" fill="#99cccc" />
<rect x="707.71" y="2991.25" width="1.5" height="225.75" fill="#666699" />
<rect x="738.32" y="2991.25" width="1.5" height="225.75" fill="#666699" />
<rect x="707.71" y="3214" width="31.62" height="2" fill="#666699" />
<rect x="706.21" y="2991.25" width="1.5" height="225.75" fill="#666688" />
<rect x="739.82" y="2991.25" width="2" height="225.75" fill="#333366" />
<rect x="741.82" y="2999.25" width="2" height="217.75" fill="#d0d0d0" />
<rect x="827.72" y="3218" width="74.71" height="4" fill="#a0a0a0" />
<rect x="827.72" y="3221" width="74.71" height="2" fill="#d0d0d0" />
<rect x="791.62" y="3215" width="36.09" height="2" fill="#9999cc" />
<rect x="827.72" y="3192.75" width="36.09" height="24.25" fill="#336699" />
<polygon points="827.72,3192.75 863.81,3192.75 858.03,3205.75 833.49,3205.75" fill="#6699cc" />
<rect x="827.72" y="3192.75" width="36.09" height="1.5" fill="#5588bb" />
<polygon points="832.77,3198.21 858.75,3198.21 856.59,3202.11 834.93,3202.11" fill="#99ccff" />
<rect x="827.72" y="3214.5" width="36.09" height="2.5" fill="#222255" />
<rect x="863.81" y="3003.16" width="35.62" height="213.84" fill="#9999cc" />
<rect x="865.81" y="3097.25" width="30.62" height="119.75" fill="#669999" />
<rect x="865.81" y="3056.62" width="2.5" height="160.38" fill="#669999" />
<rect x="893.92" y="3056.62" width="2.5" height="160.38" fill="#669999" />
<path d="M868.31,3097.25 L893.92,3097.25 C893.42,3151.14 887.31,3197.02 883.75,3209 L876.63,3209 C873.07,3197.02 868.81,3151.14 868.31,3097.25 Z" fill="#9999cc" stroke="#999999" stroke-width="1.5"/>
<rect x="867.81" y="3096.25" width="26.62" height="3" fill="#9999cc" />
<path d="M867.37,3006.16 L893.72,3006.16 C892.66,3045.5 883.75,3078.43 880.9,3097.25 C878.05,3078.43 868.44,3045.5 867.37,3006.16 Z" fill="#99cccc" />
<polygon points="867.37,3005.16 895.86,3005.16 881.61,3019.16" fill="#ccffff" />
<polygon points="869.5,3007.66 893.72,3007.66 881.61,3015.16" fill="#ffffff" />
<rect x="867.37" y="3005.16" width="28.49" height="2.5" fill="#ccffff" />
<rect x="863.81" y="3003.16" width="35.62" height="2" fill="#99cccc" />
<rect x="865.31" y="3003.16" width="1.5" height="213.84" fill="#666699" />
<rect x="895.92" y="3003.16" width="1.5" height="213.84" fill="#666699" />
<rect x="865.31" y="3214" width="31.62" height="2" fill="#666699" />
<rect x="863.81" y="3003.16" width="1.5" height="213.84" fill="#666688" />
<rect x="897.42" y="3003.16" width="2" height="213.84" fill="#333366" />
<rect x="899.42" y="3011.16" width="2" height="205.84" fill="#d0d0d0" />
<rect x="985.32" y="3218" width="74.71" height="4" fill="#a0a0a0" />
<rect x="985.32" y="3221" width="74.71" height="2" fill="#d0d0d0" />
<rect x="949.22" y="3215" width="36.09" height="2" fill="#9999cc" />
<rect x="985.32" y="3191.42" width="36.09" height="25.58" fill="#336699" />
<polygon points="985.32,3191.42 1021.41,3191.42 1015.63,3204.42 991.09,3204.42" fill="#6699cc" />
<rect x="985.32" y="3191.42" width="36.09" height="1.5" fill="#5588bb" />
<polygon points="990.37,3196.88 1016.35,3196.88 1014.19,3200.78 992.53,3200.78" fill="#99ccff" />
<rect x="985.32" y="3214.5" width="36.09" height="2.5" fill="#222255" />
<rect x="1021.41" y="3012.94" width="35.62" height="204.06" fill="#9999cc" />
<rect x="1023.41" y="3102.72" width="30.62" height="114.28" fill="#669999" />
<rect x="1023.41" y="3063.95" width="2.5" height="153.05" fill="#669999" />
<rect x="1051.52" y="3063.95" width="2.5" height="153.05" fill="#669999" />
<path d="M1025.91,3102.72 L1051.52,3102.72 C1051.02,3154.15 1044.91,3197.57 1041.35,3209 L1034.23,3209 C1030.67,3197.57 1026.41,3154.15 1025.91,3102.72 Z" fill="#9999cc" stroke="#999999" stroke-width="1.5"/>
<rect x="1025.41" y="3101.72" width="26.62" height="3" fill="#9999cc" />
<path d="M1024.97,3015.94 L1051.32,3015.94 C1050.26,3053.34 1041.35,3084.77 1038.5,3102.72 C1035.65,3084.77 1026.04,3053.34 1024.97,3015.94 Z" fill="#99cccc" />
<polygon points="1024.97,3014.94 1053.46,3014.94 1039.21,3028.94" fill="#ccffff" />
<polygon points="1027.1,3017.44 1051.32,3017.44 1039.21,3024.94" fill="#ffffff" />
<rect x="1024.97" y="3014.94" width="28.49" height="2.5" fill="#ccffff" />
<rect x="1021.41" y="3012.94" width="35.62" height="2" fill="#99cccc" />
<rect x="1022.91" y="3012.94" width="1.5" height="204.06" fill="#666699" />
<rect x="1053.52" y="3012.94" width="1.5" height="204.06" fill="#666699" />
<rect x="1022.91" y="3214" width="31.62" height="2" fill="#666699" />
<rect x="1021.41" y="3012.94" width="1.5" height="204.06" fill="#666688" />
<rect x="1055.02" y="3012.94" width="2" height="204.06" fill="#333366" />
<rect x="1057.02" y="3020.94" width="2" height="196.06" fill="#d0d0d0" />
<line x1="295.5" y1="2954.7" x2="295.5" y2="3453.5" stroke="#8c8c8c" stroke-width="2"/>
<line x1="295.5" y1="3217" x2="1079.5" y2="3217" stroke="#8c8c8c" stroke-width="2.5"/>
<line x1="139.6" y1="3279.7" x2="1079.5" y2="3279.7" stroke="#8c8c8c" stroke-width="2"/>
<line x1="139.6" y1="3342.5" x2="1079.5" y2="3342.5" stroke="#8c8c8c" stroke-width="2"/>
<line x1="139.6" y1="3407.3" x2="1079.5" y2="3407.3" stroke="#8c8c8c" stroke-width="2"/>
<line x1="139.6" y1="3279.7" x2="139.6" y2="3453.5" stroke="#8c8c8c" stroke-width="2"/>
<line x1="453.1" y1="3217" x2="453.1" y2="3453.5" stroke="#8c8c8c" stroke-width="2"/>
<line x1="610.7" y1="3217" x2="610.7" y2="3453.5" stroke="#8c8c8c" stroke-width="2"/>
<line x1="768.3" y1="3217" x2="768.3" y2="3453.5" stroke="#8c8c8c" stroke-width="2"/>
<line x1="925.9" y1="3217" x2="925.9" y2="3453.5" stroke="#8c8c8c" stroke-width="2"/>
<text x="374.9" y="3261" font-family="Liberation Sans" font-size="37" font-weight="normal" text-anchor="middle" fill="#000" letter-spacing="1.2" stroke="#fff" stroke-width="0.8">2010</text>
<text x="532.5" y="3261" font-family="Liberation Sans" font-size="37" font-weight="normal" text-anchor="middle" fill="#000" letter-spacing="1.2" stroke="#fff" stroke-width="0.8">2011</text>
<text x="690.1" y="3261" font-family="Liberation Sans" font-size="37" font-weight="normal" text-anchor="middle" fill="#000" letter-spacing="1.2" stroke="#fff" stroke-width="0.8">2012</text>
<text x="847.7" y="3261" font-family="Liberation Sans" font-size="37" font-weight="normal" text-anchor="middle" fill="#000" letter-spacing="1.2" stroke="#fff" stroke-width="0.8">2013</text>
<text x="1005.3" y="3261" font-family="Liberation Sans" font-size="37" font-weight="normal" text-anchor="middle" fill="#000" letter-spacing="1.2" stroke="#fff" stroke-width="0.8">2014</text>
<rect x="152.3" y="3299.7" width="23" height="23" fill="#33669a" />
<rect x="152.3" y="3299.7" width="2" height="23" fill="#26265e" />
<rect x="173.3" y="3299.7" width="2" height="23" fill="#26265e" />
<rect x="152.3" y="3318.7" width="23" height="4" fill="#2a2a66" />
<rect x="152.3" y="3299.7" width="23" height="2.5" fill="#5588bb" />
<polygon points="155.3,3301.7 172.3,3301.7 166.3,3308.7 161.3,3308.7" fill="#6699cc" />
<text x="186.3" y="3323.7" font-family="Liberation Sans" font-size="37" font-weight="normal" text-anchor="start" fill="#000" letter-spacing="0.5" stroke="#fff" stroke-width="0.8">1-34</text>
<text x="374.8" y="3323.7" font-family="Liberation Sans" font-size="37" font-weight="normal" text-anchor="middle" fill="#000" letter-spacing="1" stroke="#fff" stroke-width="0.8">0,13062</text>
<text x="532.4" y="3323.7" font-family="Liberation Sans" font-size="37" font-weight="normal" text-anchor="middle" fill="#000" letter-spacing="1" stroke="#fff" stroke-width="0.8">0,1788</text>
<text x="690" y="3323.7" font-family="Liberation Sans" font-size="37" font-weight="normal" text-anchor="middle" fill="#000" letter-spacing="1" stroke="#fff" stroke-width="0.8">0,04542</text>
<text x="847.6" y="3323.7" font-family="Liberation Sans" font-size="37" font-weight="normal" text-anchor="middle" fill="#000" letter-spacing="1" stroke="#fff" stroke-width="0.8">0,32337</text>
<text x="1005.2" y="3323.7" font-family="Liberation Sans" font-size="37" font-weight="normal" text-anchor="middle" fill="#000" letter-spacing="1" stroke="#fff" stroke-width="0.8">0,32811</text>
<rect x="152.3" y="3362.5" width="23" height="23" fill="#336699" />
<rect x="152.3" y="3362.5" width="2" height="23" fill="#223366" />
<rect x="173.3" y="3362.5" width="2" height="23" fill="#223366" />
<rect x="152.3" y="3381.5" width="23" height="4" fill="#336666" />
<rect x="152.3" y="3362.5" width="23" height="2.5" fill="#3399cc" />
<polygon points="155.3,3364.5 172.3,3364.5 166.3,3371.5 161.3,3371.5" fill="#99ccff" />
<text x="186.3" y="3386.5" font-family="Liberation Sans" font-size="37" font-weight="normal" text-anchor="start" fill="#000" letter-spacing="0.5" stroke="#fff" stroke-width="0.8">35-64</text>
<text x="374.8" y="3386.5" font-family="Liberation Sans" font-size="37" font-weight="normal" text-anchor="middle" fill="#000" letter-spacing="1" stroke="#fff" stroke-width="0.8">8,93906</text>
<text x="532.4" y="3386.5" font-family="Liberation Sans" font-size="37" font-weight="normal" text-anchor="middle" fill="#000" letter-spacing="1" stroke="#fff" stroke-width="0.8">8,75029</text>
<text x="690" y="3386.5" font-family="Liberation Sans" font-size="37" font-weight="normal" text-anchor="middle" fill="#000" letter-spacing="1" stroke="#fff" stroke-width="0.8">8,97079</text>
<text x="847.6" y="3386.5" font-family="Liberation Sans" font-size="37" font-weight="normal" text-anchor="middle" fill="#000" letter-spacing="1" stroke="#fff" stroke-width="0.8">7,34762</text>
<text x="1005.2" y="3386.5" font-family="Liberation Sans" font-size="37" font-weight="normal" text-anchor="middle" fill="#000" letter-spacing="1" stroke="#fff" stroke-width="0.8">7,75057</text>
<rect x="152.3" y="3427.3" width="23" height="23" fill="#9999cc" />
<rect x="152.3" y="3427.3" width="2" height="23" fill="#666699" />
<rect x="173.3" y="3427.3" width="2" height="23" fill="#666699" />
<rect x="152.3" y="3446.3" width="23" height="4" fill="#777777" />
<rect x="152.3" y="3427.3" width="23" height="2.5" fill="#ccccff" />
<polygon points="155.3,3429.3 172.3,3429.3 166.3,3436.3 161.3,3436.3" fill="#ffffff" />
<text x="186.3" y="3451.3" font-family="Liberation Sans" font-size="37" font-weight="normal" text-anchor="start" fill="#000" letter-spacing="0.5" stroke="#fff" stroke-width="0.8">65&lt;</text>
<text x="374.8" y="3451.3" font-family="Liberation Sans" font-size="37" font-weight="normal" text-anchor="middle" fill="#000" letter-spacing="1" stroke="#fff" stroke-width="0.8">62,8665</text>
<text x="532.4" y="3451.3" font-family="Liberation Sans" font-size="37" font-weight="normal" text-anchor="middle" fill="#000" letter-spacing="1" stroke="#fff" stroke-width="0.8">63,3224</text>
<text x="690" y="3451.3" font-family="Liberation Sans" font-size="37" font-weight="normal" text-anchor="middle" fill="#000" letter-spacing="1" stroke="#fff" stroke-width="0.8">68,408</text>
<text x="847.6" y="3451.3" font-family="Liberation Sans" font-size="37" font-weight="normal" text-anchor="middle" fill="#000" letter-spacing="1" stroke="#fff" stroke-width="0.8">64,8006</text>
<text x="1005.2" y="3451.3" font-family="Liberation Sans" font-size="37" font-weight="normal" text-anchor="middle" fill="#000" letter-spacing="1" stroke="#fff" stroke-width="0.8">61,8376</text>
<text x="1722.3" y="2883.5" font-family="Liberation Serif" font-size="66.3" font-weight="bold" text-anchor="middle" fill="#000" >Czech Rebublic</text>
<text transform="translate(1264,3089) rotate(-90)" x="0" y="0" font-family="Liberation Serif" font-size="26" text-anchor="middle" dominant-baseline="central" textLength="288" lengthAdjust="spacingAndGlyphs" stroke="#fff" stroke-width="0.5">Crude deathrate per 100000</text>
<text transform="translate(1292.8,3089) rotate(-90)" x="0" y="0" font-family="Liberation Serif" font-size="26" text-anchor="middle" dominant-baseline="central" textLength="122" lengthAdjust="spacingAndGlyphs" stroke="#fff" stroke-width="0.5">for women</text>
<text x="1375.4" y="3231.5" font-family="Liberation Sans" font-size="37" font-weight="normal" text-anchor="end" fill="#000" stroke="#fff" stroke-width="0.8">0</text>
<text x="1375.4" y="3186.5" font-family="Liberation Sans" font-size="37" font-weight="normal" text-anchor="end" fill="#000" stroke="#fff" stroke-width="0.8">10</text>
<text x="1375.4" y="3141.5" font-family="Liberation Sans" font-size="37" font-weight="normal" text-anchor="end" fill="#000" stroke="#fff" stroke-width="0.8">20</text>
<text x="1375.4" y="3096.5" font-family="Liberation Sans" font-size="37" font-weight="normal" text-anchor="end" fill="#000" stroke="#fff" stroke-width="0.8">30</text>
<text x="1375.4" y="3051.5" font-family="Liberation Sans" font-size="37" font-weight="normal" text-anchor="end" fill="#000" stroke="#fff" stroke-width="0.8">40</text>
<text x="1375.4" y="3006.5" font-family="Liberation Sans" font-size="37" font-weight="normal" text-anchor="end" fill="#000" stroke="#fff" stroke-width="0.8">50</text>
<text x="1375.4" y="2961.5" font-family="Liberation Sans" font-size="37" font-weight="normal" text-anchor="end" fill="#000" stroke="#fff" stroke-width="0.8">60</text>
<rect x="1477.09" y="3219.5" width="75.53" height="4" fill="#a0a0a0" />
<rect x="1477.09" y="3222.5" width="75.53" height="2" fill="#d0d0d0" />
<rect x="1440.59" y="3216.5" width="36.5" height="2" fill="#cc9999" />
<rect x="1477.09" y="3201.27" width="36.5" height="17.23" fill="#993333" />
<polygon points="1477.09,3201.27 1513.6,3201.27 1507.76,3211.95 1482.93,3211.95" fill="#ff6666" />
<rect x="1477.09" y="3201.27" width="36.5" height="1.5" fill="#cc6666" />
<polygon points="1482.2,3205.76 1508.49,3205.76 1506.3,3208.96 1484.39,3208.96" fill="#ff9f9f" />
<rect x="1477.09" y="3216" width="36.5" height="2.5" fill="#662222" />
<rect x="1513.6" y="2998.11" width="36.02" height="220.39" fill="#cc9999" />
<rect x="1515.6" y="3055.41" width="31.02" height="163.09" fill="#996666" />
<path d="M1518.1,3055.41 L1544.12,3055.41 C1543.62,3128.8 1537.37,3194.19 1533.77,3210.5 L1526.57,3210.5 C1522.96,3194.19 1518.6,3128.8 1518.1,3055.41 Z" fill="#cc9999" stroke="#b09090" stroke-width="1.5"/>
<rect x="1517.6" y="3054.41" width="27.02" height="3" fill="#cc9999" />
<path d="M1526.57,3001.11 L1535.21,3001.11 C1534.13,3022.91 1533.41,3042.19 1530.53,3053.21 C1527.65,3042.19 1527.65,3022.91 1526.57,3001.11 Z" fill="#ff9999" />
<polygon points="1517.2,3000.11 1546.02,3000.11 1531.61,3014.11" fill="#ffcccc" />
<polygon points="1519.36,3002.61 1543.86,3002.61 1531.61,3010.11" fill="#ffffff" />
<rect x="1517.2" y="3000.11" width="28.82" height="2.5" fill="#ffcccc" />
<rect x="1513.6" y="2998.11" width="36.02" height="2" fill="#c89898" />
<rect x="1515.1" y="2998.11" width="1.5" height="220.39" fill="#996666" />
<rect x="1546.12" y="2998.11" width="1.5" height="220.39" fill="#996666" />
<rect x="1515.1" y="3215.5" width="32.02" height="2" fill="#996666" />
<rect x="1513.6" y="2998.11" width="1.5" height="220.39" fill="#7a5a5a" />
<rect x="1547.62" y="2998.11" width="2" height="220.39" fill="#442222" />
<rect x="1549.62" y="3006.11" width="2" height="212.39" fill="#d0d0d0" />
<rect x="1636.49" y="3219.5" width="75.53" height="4" fill="#a0a0a0" />
<rect x="1636.49" y="3222.5" width="75.53" height="2" fill="#d0d0d0" />
<rect x="1599.99" y="3216.5" width="36.5" height="2" fill="#cc9999" />
<rect x="1636.49" y="3200.75" width="36.5" height="17.75" fill="#993333" />
<polygon points="1636.49,3200.75 1673,3200.75 1667.16,3211.75 1642.33,3211.75" fill="#ff6666" />
<rect x="1636.49" y="3200.75" width="36.5" height="1.5" fill="#cc6666" />
<polygon points="1641.6,3205.37 1667.89,3205.37 1665.7,3208.67 1643.79,3208.67" fill="#ff9f9f" />
<rect x="1636.49" y="3216" width="36.5" height="2.5" fill="#662222" />
<rect x="1673" y="2977.94" width="36.02" height="240.56" fill="#cc9999" />
<rect x="1675" y="3040.49" width="31.02" height="178.01" fill="#996666" />
<path d="M1677.5,3040.49 L1703.52,3040.49 C1703.02,3120.59 1696.77,3192.7 1693.17,3210.5 L1685.97,3210.5 C1682.36,3192.7 1678,3120.59 1677.5,3040.49 Z" fill="#cc9999" stroke="#b09090" stroke-width="1.5"/>
<rect x="1677" y="3039.49" width="27.02" height="3" fill="#cc9999" />
<path d="M1685.97,2980.94 L1694.61,2980.94 C1693.53,3005 1692.81,3026.05 1689.93,3038.08 C1687.05,3026.05 1687.05,3005 1685.97,2980.94 Z" fill="#ff9999" />
<polygon points="1676.6,2979.94 1705.42,2979.94 1691.01,2993.94" fill="#ffcccc" />
<polygon points="1678.76,2982.44 1703.26,2982.44 1691.01,2989.94" fill="#ffffff" />
<rect x="1676.6" y="2979.94" width="28.82" height="2.5" fill="#ffcccc" />
<rect x="1673" y="2977.94" width="36.02" height="2" fill="#c89898" />
<rect x="1674.5" y="2977.94" width="1.5" height="240.56" fill="#996666" />
<rect x="1705.52" y="2977.94" width="1.5" height="240.56" fill="#996666" />
<rect x="1674.5" y="3215.5" width="32.02" height="2" fill="#996666" />
<rect x="1673" y="2977.94" width="1.5" height="240.56" fill="#7a5a5a" />
<rect x="1707.02" y="2977.94" width="2" height="240.56" fill="#442222" />
<rect x="1709.02" y="2985.94" width="2" height="232.56" fill="#d0d0d0" />
<rect x="1795.89" y="3219.5" width="75.53" height="4" fill="#a0a0a0" />
<rect x="1795.89" y="3222.5" width="75.53" height="2" fill="#d0d0d0" />
<rect x="1759.39" y="3216.5" width="36.5" height="2" fill="#cc9999" />
<rect x="1795.89" y="3205.21" width="36.5" height="13.29" fill="#993333" />
<polygon points="1795.89,3205.21 1832.4,3205.21 1826.56,3213.45 1801.73,3213.45" fill="#ff6666" />
<rect x="1795.89" y="3205.21" width="36.5" height="1.5" fill="#cc6666" />
<polygon points="1801,3208.67 1827.29,3208.67 1825.1,3211.14 1803.19,3211.14" fill="#ff9f9f" />
<rect x="1795.89" y="3216" width="36.5" height="2.5" fill="#662222" />
<rect x="1832.4" y="2961.69" width="36.02" height="256.81" fill="#cc9999" />
<rect x="1834.4" y="3028.46" width="31.02" height="190.04" fill="#996666" />
<path d="M1836.9,3028.46 L1862.92,3028.46 C1862.42,3113.98 1856.17,3191.5 1852.57,3210.5 L1845.37,3210.5 C1841.76,3191.5 1837.4,3113.98 1836.9,3028.46 Z" fill="#cc9999" stroke="#b09090" stroke-width="1.5"/>
<rect x="1836.4" y="3027.46" width="27.02" height="3" fill="#cc9999" />
<path d="M1845.37,2964.69 L1854.01,2964.69 C1852.93,2990.59 1852.21,3013.06 1849.33,3025.9 C1846.45,3013.06 1846.45,2990.59 1845.37,2964.69 Z" fill="#ff9999" />
<polygon points="1836,2963.69 1864.82,2963.69 1850.41,2977.69" fill="#ffcccc" />
<polygon points="1838.16,2966.19 1862.66,2966.19 1850.41,2973.69" fill="#ffffff" />
<rect x="1836" y="2963.69" width="28.82" height="2.5" fill="#ffcccc" />
<rect x="1832.4" y="2961.69" width="36.02" height="2" fill="#c89898" />
<rect x="1833.9" y="2961.69" width="1.5" height="256.81" fill="#996666" />
<rect x="1864.92" y="2961.69" width="1.5" height="256.81" fill="#996666" />
<rect x="1833.9" y="3215.5" width="32.02" height="2" fill="#996666" />
<rect x="1832.4" y="2961.69" width="1.5" height="256.81" fill="#7a5a5a" />
<rect x="1866.42" y="2961.69" width="2" height="256.81" fill="#442222" />
<rect x="1868.42" y="2969.69" width="2" height="248.81" fill="#d0d0d0" />
<rect x="1955.29" y="3219.5" width="75.53" height="4" fill="#a0a0a0" />
<rect x="1955.29" y="3222.5" width="75.53" height="2" fill="#d0d0d0" />
<rect x="1918.79" y="3216.5" width="36.5" height="2" fill="#cc9999" />
<rect x="1955.29" y="3203.61" width="36.5" height="14.89" fill="#993333" />
<polygon points="1955.29,3203.61 1991.8,3203.61 1985.96,3212.84 1961.13,3212.84" fill="#ff6666" />
<rect x="1955.29" y="3203.61" width="36.5" height="1.5" fill="#cc6666" />
<polygon points="1960.4,3207.49 1986.69,3207.49 1984.5,3210.26 1962.59,3210.26" fill="#ff9f9f" />
<rect x="1955.29" y="3216" width="36.5" height="2.5" fill="#662222" />
<rect x="1991.8" y="2987.25" width="36.02" height="231.25" fill="#cc9999" />
<rect x="1993.8" y="3047.38" width="31.02" height="171.12" fill="#996666" />
<path d="M1996.3,3047.38 L2022.32,3047.38 C2021.82,3124.38 2015.57,3193.39 2011.97,3210.5 L2004.77,3210.5 C2001.16,3193.39 1996.8,3124.38 1996.3,3047.38 Z" fill="#cc9999" stroke="#b09090" stroke-width="1.5"/>
<rect x="1995.8" y="3046.38" width="27.02" height="3" fill="#cc9999" />
<path d="M2004.77,2990.25 L2013.41,2990.25 C2012.33,3013.27 2011.61,3033.5 2008.73,3045.07 C2005.85,3033.5 2005.85,3013.27 2004.77,2990.25 Z" fill="#ff9999" />
<polygon points="1995.4,2989.25 2024.22,2989.25 2009.81,3003.25" fill="#ffcccc" />
<polygon points="1997.56,2991.75 2022.06,2991.75 2009.81,2999.25" fill="#ffffff" />
<rect x="1995.4" y="2989.25" width="28.82" height="2.5" fill="#ffcccc" />
<rect x="1991.8" y="2987.25" width="36.02" height="2" fill="#c89898" />
<rect x="1993.3" y="2987.25" width="1.5" height="231.25" fill="#996666" />
<rect x="2024.32" y="2987.25" width="1.5" height="231.25" fill="#996666" />
<rect x="1993.3" y="3215.5" width="32.02" height="2" fill="#996666" />
<rect x="1991.8" y="2987.25" width="1.5" height="231.25" fill="#7a5a5a" />
<rect x="2025.82" y="2987.25" width="2" height="231.25" fill="#442222" />
<rect x="2027.82" y="2995.25" width="2" height="223.25" fill="#d0d0d0" />
<rect x="2114.69" y="3219.5" width="75.53" height="4" fill="#a0a0a0" />
<rect x="2114.69" y="3222.5" width="75.53" height="2" fill="#d0d0d0" />
<rect x="2078.19" y="3216.5" width="36.5" height="2" fill="#cc9999" />
<rect x="2114.69" y="3203.45" width="36.5" height="15.05" fill="#993333" />
<polygon points="2114.69,3203.45 2151.2,3203.45 2145.36,3212.78 2120.53,3212.78" fill="#ff6666" />
<rect x="2114.69" y="3203.45" width="36.5" height="1.5" fill="#cc6666" />
<polygon points="2119.8,3207.37 2146.09,3207.37 2143.9,3210.17 2121.99,3210.17" fill="#ff9f9f" />
<rect x="2114.69" y="3216" width="36.5" height="2.5" fill="#662222" />
<rect x="2151.2" y="2998.46" width="36.02" height="220.04" fill="#cc9999" />
<rect x="2153.2" y="3055.67" width="31.02" height="162.83" fill="#996666" />
<path d="M2155.7,3055.67 L2181.72,3055.67 C2181.22,3128.94 2174.97,3194.22 2171.37,3210.5 L2164.17,3210.5 C2160.56,3194.22 2156.2,3128.94 2155.7,3055.67 Z" fill="#cc9999" stroke="#b09090" stroke-width="1.5"/>
<rect x="2155.2" y="3054.67" width="27.02" height="3" fill="#cc9999" />
<path d="M2164.17,3001.46 L2172.81,3001.46 C2171.73,3023.21 2171.01,3042.47 2168.13,3053.47 C2165.25,3042.47 2165.25,3023.21 2164.17,3001.46 Z" fill="#ff9999" />
<polygon points="2154.8,3000.46 2183.62,3000.46 2169.21,3014.46" fill="#ffcccc" />
<polygon points="2156.96,3002.96 2181.46,3002.96 2169.21,3010.46" fill="#ffffff" />
<rect x="2154.8" y="3000.46" width="28.82" height="2.5" fill="#ffcccc" />
<rect x="2151.2" y="2998.46" width="36.02" height="2" fill="#c89898" />
<rect x="2152.7" y="2998.46" width="1.5" height="220.04" fill="#996666" />
<rect x="2183.72" y="2998.46" width="1.5" height="220.04" fill="#996666" />
<rect x="2152.7" y="3215.5" width="32.02" height="2" fill="#996666" />
<rect x="2151.2" y="2998.46" width="1.5" height="220.04" fill="#7a5a5a" />
<rect x="2185.22" y="2998.46" width="2" height="220.04" fill="#442222" />
<rect x="2187.22" y="3006.46" width="2" height="212.04" fill="#d0d0d0" />
<line x1="1417" y1="2949.4" x2="1417" y2="3476.2" stroke="#8c8c8c" stroke-width="2"/>
<line x1="1417" y1="3218.5" x2="2214" y2="3218.5" stroke="#8c8c8c" stroke-width="2.5"/>
<line x1="1259.1" y1="3283.5" x2="2214" y2="3283.5" stroke="#8c8c8c" stroke-width="2"/>
<line x1="1259.1" y1="3347.6" x2="2214" y2="3347.6" stroke="#8c8c8c" stroke-width="2"/>
<line x1="1259.1" y1="3412.7" x2="2214" y2="3412.7" stroke="#8c8c8c" stroke-width="2"/>
<line x1="1259.1" y1="3476.2" x2="2214" y2="3476.2" stroke="#8c8c8c" stroke-width="2"/>
<line x1="1259.1" y1="3283.5" x2="1259.1" y2="3476.2" stroke="#8c8c8c" stroke-width="2"/>
<line x1="1576.4" y1="3218.5" x2="1576.4" y2="3476.2" stroke="#8c8c8c" stroke-width="2"/>
<line x1="1735.8" y1="3218.5" x2="1735.8" y2="3476.2" stroke="#8c8c8c" stroke-width="2"/>
<line x1="1895.2" y1="3218.5" x2="1895.2" y2="3476.2" stroke="#8c8c8c" stroke-width="2"/>
<line x1="2054.6" y1="3218.5" x2="2054.6" y2="3476.2" stroke="#8c8c8c" stroke-width="2"/>
<line x1="2214" y1="3218.5" x2="2214" y2="3476.2" stroke="#8c8c8c" stroke-width="2"/>
<text x="1497.3" y="3262.5" font-family="Liberation Sans" font-size="37" font-weight="normal" text-anchor="middle" fill="#000" letter-spacing="1.2" stroke="#fff" stroke-width="0.8">2010</text>
<text x="1656.7" y="3262.5" font-family="Liberation Sans" font-size="37" font-weight="normal" text-anchor="middle" fill="#000" letter-spacing="1.2" stroke="#fff" stroke-width="0.8">2011</text>
<text x="1816.1" y="3262.5" font-family="Liberation Sans" font-size="37" font-weight="normal" text-anchor="middle" fill="#000" letter-spacing="1.2" stroke="#fff" stroke-width="0.8">2012</text>
<text x="1975.5" y="3262.5" font-family="Liberation Sans" font-size="37" font-weight="normal" text-anchor="middle" fill="#000" letter-spacing="1.2" stroke="#fff" stroke-width="0.8">2013</text>
<text x="2134.9" y="3262.5" font-family="Liberation Sans" font-size="37" font-weight="normal" text-anchor="middle" fill="#000" letter-spacing="1.2" stroke="#fff" stroke-width="0.8">2014</text>
<rect x="1272.8" y="3303.5" width="23" height="23" fill="#993333" />
<rect x="1272.8" y="3303.5" width="2" height="23" fill="#663333" />
<rect x="1293.8" y="3303.5" width="2" height="23" fill="#663333" />
<rect x="1272.8" y="3322.5" width="23" height="4" fill="#663333" />
<rect x="1272.8" y="3303.5" width="23" height="2.5" fill="#cc4444" />
<polygon points="1275.8,3305.5 1292.8,3305.5 1286.8,3312.5 1281.8,3312.5" fill="#ff6666" />
<text x="1306.8" y="3327.5" font-family="Liberation Sans" font-size="37" font-weight="normal" text-anchor="start" fill="#000" letter-spacing="0.5" stroke="#fff" stroke-width="0.8">1-34</text>
<text x="1497.2" y="3327.5" font-family="Liberation Sans" font-size="37" font-weight="normal" text-anchor="middle" fill="#000" letter-spacing="1" stroke="#fff" stroke-width="0.8">0,18442</text>
<text x="1656.6" y="3327.5" font-family="Liberation Sans" font-size="37" font-weight="normal" text-anchor="middle" fill="#000" letter-spacing="1" stroke="#fff" stroke-width="0.8">0,09435</text>
<text x="1816" y="3327.5" font-family="Liberation Sans" font-size="37" font-weight="normal" text-anchor="middle" fill="#000" letter-spacing="1" stroke="#fff" stroke-width="0.8">0,09585</text>
<text x="1975.4" y="3327.5" font-family="Liberation Sans" font-size="37" font-weight="normal" text-anchor="middle" fill="#000" letter-spacing="1" stroke="#fff" stroke-width="0.8">0,04869</text>
<text x="2134.8" y="3327.5" font-family="Liberation Sans" font-size="37" font-weight="normal" text-anchor="middle" fill="#000" letter-spacing="1" stroke="#fff" stroke-width="0.8">0,04937</text>
<rect x="1272.8" y="3367.6" width="23" height="23" fill="#993333" />
<rect x="1272.8" y="3367.6" width="2" height="23" fill="#662222" />
<rect x="1293.8" y="3367.6" width="2" height="23" fill="#662222" />
<rect x="1272.8" y="3386.6" width="23" height="4" fill="#662222" />
<rect x="1272.8" y="3367.6" width="23" height="2.5" fill="#cc3333" />
<polygon points="1275.8,3369.6 1292.8,3369.6 1286.8,3376.6 1281.8,3376.6" fill="#ff7777" />
<text x="1306.8" y="3391.6" font-family="Liberation Sans" font-size="37" font-weight="normal" text-anchor="start" fill="#000" letter-spacing="0.5" stroke="#fff" stroke-width="0.8">35-64</text>
<text x="1497.2" y="3391.6" font-family="Liberation Sans" font-size="37" font-weight="normal" text-anchor="middle" fill="#000" letter-spacing="1" stroke="#fff" stroke-width="0.8">3,82939</text>
<text x="1656.6" y="3391.6" font-family="Liberation Sans" font-size="37" font-weight="normal" text-anchor="middle" fill="#000" letter-spacing="1" stroke="#fff" stroke-width="0.8">3,94497</text>
<text x="1816" y="3391.6" font-family="Liberation Sans" font-size="37" font-weight="normal" text-anchor="middle" fill="#000" letter-spacing="1" stroke="#fff" stroke-width="0.8">2,95313</text>
<text x="1975.4" y="3391.6" font-family="Liberation Sans" font-size="37" font-weight="normal" text-anchor="middle" fill="#000" letter-spacing="1" stroke="#fff" stroke-width="0.8">3,30825</text>
<text x="2134.8" y="3391.6" font-family="Liberation Sans" font-size="37" font-weight="normal" text-anchor="middle" fill="#000" letter-spacing="1" stroke="#fff" stroke-width="0.8">3,34485</text>
<rect x="1272.8" y="3432.7" width="23" height="23" fill="#cc9999" />
<rect x="1272.8" y="3432.7" width="2" height="23" fill="#996666" />
<rect x="1293.8" y="3432.7" width="2" height="23" fill="#996666" />
<rect x="1272.8" y="3451.7" width="23" height="4" fill="#666666" />
<rect x="1272.8" y="3432.7" width="23" height="2.5" fill="#ffcccc" />
<polygon points="1275.8,3434.7 1292.8,3434.7 1286.8,3441.7 1281.8,3441.7" fill="#ffffff" />
<text x="1306.8" y="3456.7" font-family="Liberation Sans" font-size="37" font-weight="normal" text-anchor="start" fill="#000" letter-spacing="0.5" stroke="#fff" stroke-width="0.8">65&lt;</text>
<text x="1497.2" y="3456.7" font-family="Liberation Sans" font-size="37" font-weight="normal" text-anchor="middle" fill="#000" letter-spacing="1" stroke="#fff" stroke-width="0.8">48,9749</text>
<text x="1656.6" y="3456.7" font-family="Liberation Sans" font-size="37" font-weight="normal" text-anchor="middle" fill="#000" letter-spacing="1" stroke="#fff" stroke-width="0.8">53,4577</text>
<text x="1816" y="3456.7" font-family="Liberation Sans" font-size="37" font-weight="normal" text-anchor="middle" fill="#000" letter-spacing="1" stroke="#fff" stroke-width="0.8">57,0679</text>
<text x="1975.4" y="3456.7" font-family="Liberation Sans" font-size="37" font-weight="normal" text-anchor="middle" fill="#000" letter-spacing="1" stroke="#fff" stroke-width="0.8">51,388</text>
<text x="2134.8" y="3456.7" font-family="Liberation Sans" font-size="37" font-weight="normal" text-anchor="middle" fill="#000" letter-spacing="1" stroke="#fff" stroke-width="0.8">48,8982</text>
</svg>
</body></html>
